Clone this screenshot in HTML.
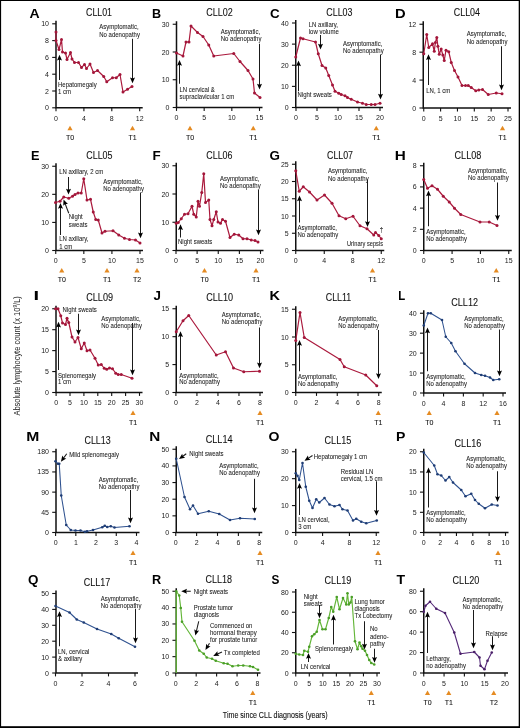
<!DOCTYPE html>
<html><head><meta charset="utf-8"><style>
html,body{margin:0;padding:0;background:#fff;width:520px;height:728px;overflow:hidden}
svg{display:block;font-family:"Liberation Sans", sans-serif;will-change:transform}
</style></head><body>
<svg width="520" height="728" viewBox="0 0 520 728">
<text transform="translate(29.45 18) scale(1.05 1)" font-size="13.4" font-weight="bold" fill="#000">A</text>
<text transform="translate(99 16.05) scale(1 1.1)" font-size="9.2" text-anchor="middle" fill="#111" stroke="#111" stroke-width="0.08" textLength="26" lengthAdjust="spacingAndGlyphs">CLL01</text>
<path d="M56 20.8V107.8H142.7" fill="none" stroke="#111" stroke-width="1.5"/>
<path d="M52.2 107.8H56" stroke="#111" stroke-width="1.1"/>
<text x="49" y="110.3" font-size="7" text-anchor="end" font-weight="normal" fill="#1a1a1a">0</text>
<path d="M52.2 91H56" stroke="#111" stroke-width="1.1"/>
<text x="49" y="93.5" font-size="7" text-anchor="end" font-weight="normal" fill="#1a1a1a">2</text>
<path d="M52.2 74.2H56" stroke="#111" stroke-width="1.1"/>
<text x="49" y="76.7" font-size="7" text-anchor="end" font-weight="normal" fill="#1a1a1a">4</text>
<path d="M52.2 57.4H56" stroke="#111" stroke-width="1.1"/>
<text x="49" y="59.9" font-size="7" text-anchor="end" font-weight="normal" fill="#1a1a1a">6</text>
<path d="M52.2 40.6H56" stroke="#111" stroke-width="1.1"/>
<text x="49" y="43.1" font-size="7" text-anchor="end" font-weight="normal" fill="#1a1a1a">8</text>
<path d="M52.2 23.8H56" stroke="#111" stroke-width="1.1"/>
<text x="49" y="26.3" font-size="7" text-anchor="end" font-weight="normal" fill="#1a1a1a">10</text>
<path d="M56 107.8V111.2" stroke="#111" stroke-width="1.1"/>
<text x="56" y="120.7" font-size="7" text-anchor="middle" font-weight="normal" fill="#1a1a1a">0</text>
<path d="M83.9 107.8V111.2" stroke="#111" stroke-width="1.1"/>
<text x="83.9" y="120.7" font-size="7" text-anchor="middle" font-weight="normal" fill="#1a1a1a">4</text>
<path d="M111.8 107.8V111.2" stroke="#111" stroke-width="1.1"/>
<text x="111.8" y="120.7" font-size="7" text-anchor="middle" font-weight="normal" fill="#1a1a1a">8</text>
<path d="M139.7 107.8V111.2" stroke="#111" stroke-width="1.1"/>
<text x="139.7" y="120.7" font-size="7" text-anchor="middle" font-weight="normal" fill="#1a1a1a">12</text>
<path d="M56 32 L56 40.5 L59 49.5 L61.5 39.5 L62.5 52 L65.5 53 L67 59.5 L70.5 52.5 L72 59 L74.5 62.5 L78.5 62.5 L81.5 67.5 L84.5 64.5 L86.5 68.5 L90 64 L93.5 72.5 L97.5 70.5 L103.75 76.5 L106.75 81.75 L112.5 77.75 L116.25 77.75 L120 74.5 L123 92 L127.5 89.25 L132 86.5" fill="none" stroke="#ab1a3d" stroke-width="1.2" stroke-linejoin="round"/>
<circle cx="56" cy="32" r="1.5" fill="#a3163a"/>
<circle cx="56" cy="40.5" r="1.5" fill="#a3163a"/>
<circle cx="59" cy="49.5" r="1.5" fill="#a3163a"/>
<circle cx="61.5" cy="39.5" r="1.5" fill="#a3163a"/>
<circle cx="62.5" cy="52" r="1.5" fill="#a3163a"/>
<circle cx="65.5" cy="53" r="1.5" fill="#a3163a"/>
<circle cx="67" cy="59.5" r="1.5" fill="#a3163a"/>
<circle cx="70.5" cy="52.5" r="1.5" fill="#a3163a"/>
<circle cx="72" cy="59" r="1.5" fill="#a3163a"/>
<circle cx="74.5" cy="62.5" r="1.5" fill="#a3163a"/>
<circle cx="78.5" cy="62.5" r="1.5" fill="#a3163a"/>
<circle cx="81.5" cy="67.5" r="1.5" fill="#a3163a"/>
<circle cx="84.5" cy="64.5" r="1.5" fill="#a3163a"/>
<circle cx="86.5" cy="68.5" r="1.5" fill="#a3163a"/>
<circle cx="90" cy="64" r="1.5" fill="#a3163a"/>
<circle cx="93.5" cy="72.5" r="1.5" fill="#a3163a"/>
<circle cx="97.5" cy="70.5" r="1.5" fill="#a3163a"/>
<circle cx="103.75" cy="76.5" r="1.5" fill="#a3163a"/>
<circle cx="106.75" cy="81.75" r="1.5" fill="#a3163a"/>
<circle cx="112.5" cy="77.75" r="1.5" fill="#a3163a"/>
<circle cx="116.25" cy="77.75" r="1.5" fill="#a3163a"/>
<circle cx="120" cy="74.5" r="1.5" fill="#a3163a"/>
<circle cx="123" cy="92" r="1.5" fill="#a3163a"/>
<circle cx="127.5" cy="89.25" r="1.5" fill="#a3163a"/>
<circle cx="132" cy="86.5" r="1.5" fill="#a3163a"/>
<path d="M59.5 80V58.18" stroke="#1a1a1a" stroke-width="1.05"/>
<path d="M59.5 54.7L57 60.5L59.5 59.46L62 60.5Z" fill="#000"/>
<path d="M132.5 38.75V79.82" stroke="#1a1a1a" stroke-width="1.05"/>
<path d="M132.5 83.3L130 77.5L132.5 78.54L135 77.5Z" fill="#000"/>
<text transform="translate(58 86.85) scale(1 1.08)" font-size="6" text-anchor="start" fill="#1a1a1a" stroke="#1a1a1a" stroke-width="0.06" textLength="38.69" lengthAdjust="spacingAndGlyphs">Hepatomegaly</text>
<text transform="translate(58 93.85) scale(1 1.08)" font-size="6" text-anchor="start" fill="#1a1a1a" stroke="#1a1a1a" stroke-width="0.06" textLength="13" lengthAdjust="spacingAndGlyphs">1 cm</text>
<text transform="translate(99.25 29.35) scale(1 1.08)" font-size="6" text-anchor="start" fill="#1a1a1a" stroke="#1a1a1a" stroke-width="0.06" textLength="39.34" lengthAdjust="spacingAndGlyphs">Asymptomatic,</text>
<text transform="translate(99.25 36.85) scale(1 1.08)" font-size="6" text-anchor="start" fill="#1a1a1a" stroke="#1a1a1a" stroke-width="0.06" textLength="40.7" lengthAdjust="spacingAndGlyphs">No adenopathy</text>
<path d="M67.4 130.2L70 125.8L72.6 130.2Z" fill="#e58b22"/>
<text x="70" y="139.7" font-size="7" text-anchor="middle" font-weight="normal" fill="#111" stroke="#111" stroke-width="0.08">T0</text>
<path d="M129.9 130.2L132.5 125.8L135.1 130.2Z" fill="#e58b22"/>
<text x="132.5" y="139.7" font-size="7" text-anchor="middle" font-weight="normal" fill="#111" stroke="#111" stroke-width="0.08">T1</text>
<text transform="translate(152.05 18) scale(0.94 1)" font-size="13.4" font-weight="bold" fill="#000">B</text>
<text transform="translate(219.5 16.05) scale(1 1.1)" font-size="9.2" text-anchor="middle" fill="#111" stroke="#111" stroke-width="0.08" textLength="26.5" lengthAdjust="spacingAndGlyphs">CLL02</text>
<path d="M176.5 21.25V107.5H262.5" fill="none" stroke="#111" stroke-width="1.5"/>
<path d="M172.7 107.5H176.5" stroke="#111" stroke-width="1.1"/>
<text x="169.5" y="110" font-size="7" text-anchor="end" font-weight="normal" fill="#1a1a1a">0</text>
<path d="M172.7 79.75H176.5" stroke="#111" stroke-width="1.1"/>
<text x="169.5" y="82.25" font-size="7" text-anchor="end" font-weight="normal" fill="#1a1a1a">10</text>
<path d="M172.7 52H176.5" stroke="#111" stroke-width="1.1"/>
<text x="169.5" y="54.5" font-size="7" text-anchor="end" font-weight="normal" fill="#1a1a1a">20</text>
<path d="M172.7 24.25H176.5" stroke="#111" stroke-width="1.1"/>
<text x="169.5" y="26.75" font-size="7" text-anchor="end" font-weight="normal" fill="#1a1a1a">30</text>
<path d="M176.5 107.5V110.9" stroke="#111" stroke-width="1.1"/>
<text x="176.5" y="120.4" font-size="7" text-anchor="middle" font-weight="normal" fill="#1a1a1a">0</text>
<path d="M204.17 107.5V110.9" stroke="#111" stroke-width="1.1"/>
<text x="204.17" y="120.4" font-size="7" text-anchor="middle" font-weight="normal" fill="#1a1a1a">5</text>
<path d="M231.83 107.5V110.9" stroke="#111" stroke-width="1.1"/>
<text x="231.83" y="120.4" font-size="7" text-anchor="middle" font-weight="normal" fill="#1a1a1a">10</text>
<path d="M259.5 107.5V110.9" stroke="#111" stroke-width="1.1"/>
<text x="259.5" y="120.4" font-size="7" text-anchor="middle" font-weight="normal" fill="#1a1a1a">15</text>
<path d="M176.5 53 L183 56 L186 42 L189 42 L191 26 L197.5 32.5 L203 36.5 L208.75 45 L213.75 56 L233.75 53.5 L240 61.5 L248 70.5 L253 79 L254.5 93 L260 97.5" fill="none" stroke="#ab1a3d" stroke-width="1.2" stroke-linejoin="round"/>
<circle cx="176.5" cy="53" r="1.5" fill="#a3163a"/>
<circle cx="183" cy="56" r="1.5" fill="#a3163a"/>
<circle cx="186" cy="42" r="1.5" fill="#a3163a"/>
<circle cx="189" cy="42" r="1.5" fill="#a3163a"/>
<circle cx="191" cy="26" r="1.5" fill="#a3163a"/>
<circle cx="197.5" cy="32.5" r="1.5" fill="#a3163a"/>
<circle cx="203" cy="36.5" r="1.5" fill="#a3163a"/>
<circle cx="208.75" cy="45" r="1.5" fill="#a3163a"/>
<circle cx="213.75" cy="56" r="1.5" fill="#a3163a"/>
<circle cx="233.75" cy="53.5" r="1.5" fill="#a3163a"/>
<circle cx="240" cy="61.5" r="1.5" fill="#a3163a"/>
<circle cx="248" cy="70.5" r="1.5" fill="#a3163a"/>
<circle cx="253" cy="79" r="1.5" fill="#a3163a"/>
<circle cx="254.5" cy="93" r="1.5" fill="#a3163a"/>
<circle cx="260" cy="97.5" r="1.5" fill="#a3163a"/>
<path d="M179.5 83.75V63.43" stroke="#1a1a1a" stroke-width="1.05"/>
<path d="M179.5 59.95L177 65.75L179.5 64.71L182 65.75Z" fill="#000"/>
<path d="M259.5 43.75V86.07" stroke="#1a1a1a" stroke-width="1.05"/>
<path d="M259.5 89.55L257 83.75L259.5 84.79L262 83.75Z" fill="#000"/>
<text transform="translate(179.5 91.85) scale(1 1.08)" font-size="6" text-anchor="start" fill="#1a1a1a" stroke="#1a1a1a" stroke-width="0.06" textLength="35.34" lengthAdjust="spacingAndGlyphs">LN cervical &amp;</text>
<text transform="translate(179.5 98.6) scale(1 1.08)" font-size="6" text-anchor="start" fill="#1a1a1a" stroke="#1a1a1a" stroke-width="0.06" textLength="54.69" lengthAdjust="spacingAndGlyphs">supraclavicular 1 cm</text>
<text transform="translate(220.75 34.35) scale(1 1.08)" font-size="6" text-anchor="start" fill="#1a1a1a" stroke="#1a1a1a" stroke-width="0.06" textLength="39.34" lengthAdjust="spacingAndGlyphs">Asymptomatic,</text>
<text transform="translate(220.75 41.1) scale(1 1.08)" font-size="6" text-anchor="start" fill="#1a1a1a" stroke="#1a1a1a" stroke-width="0.06" textLength="40.7" lengthAdjust="spacingAndGlyphs">No adenopathy</text>
<path d="M187.4 130.2L190 125.8L192.6 130.2Z" fill="#e58b22"/>
<text x="190" y="139.7" font-size="7" text-anchor="middle" font-weight="normal" fill="#111" stroke="#111" stroke-width="0.08">T0</text>
<path d="M250.65 130.2L253.25 125.8L255.85 130.2Z" fill="#e58b22"/>
<text x="253.25" y="139.7" font-size="7" text-anchor="middle" font-weight="normal" fill="#111" stroke="#111" stroke-width="0.08">T1</text>
<text transform="translate(270 18) scale(1 1)" font-size="13.4" font-weight="bold" fill="#000">C</text>
<text transform="translate(339.4 16.05) scale(1 1.1)" font-size="9.2" text-anchor="middle" fill="#111" stroke="#111" stroke-width="0.08" textLength="26.25" lengthAdjust="spacingAndGlyphs">CLL03</text>
<path d="M295.75 20V107.5H383" fill="none" stroke="#111" stroke-width="1.5"/>
<path d="M291.95 107.5H295.75" stroke="#111" stroke-width="1.1"/>
<text x="288.75" y="110" font-size="7" text-anchor="end" font-weight="normal" fill="#1a1a1a">0</text>
<path d="M291.95 86.38H295.75" stroke="#111" stroke-width="1.1"/>
<text x="288.75" y="88.88" font-size="7" text-anchor="end" font-weight="normal" fill="#1a1a1a">10</text>
<path d="M291.95 65.25H295.75" stroke="#111" stroke-width="1.1"/>
<text x="288.75" y="67.75" font-size="7" text-anchor="end" font-weight="normal" fill="#1a1a1a">20</text>
<path d="M291.95 44.12H295.75" stroke="#111" stroke-width="1.1"/>
<text x="288.75" y="46.62" font-size="7" text-anchor="end" font-weight="normal" fill="#1a1a1a">30</text>
<path d="M291.95 23H295.75" stroke="#111" stroke-width="1.1"/>
<text x="288.75" y="25.5" font-size="7" text-anchor="end" font-weight="normal" fill="#1a1a1a">40</text>
<path d="M296 107.5V110.9" stroke="#111" stroke-width="1.1"/>
<text x="296" y="120.4" font-size="7" text-anchor="middle" font-weight="normal" fill="#1a1a1a">0</text>
<path d="M317 107.5V110.9" stroke="#111" stroke-width="1.1"/>
<text x="317" y="120.4" font-size="7" text-anchor="middle" font-weight="normal" fill="#1a1a1a">5</text>
<path d="M338 107.5V110.9" stroke="#111" stroke-width="1.1"/>
<text x="338" y="120.4" font-size="7" text-anchor="middle" font-weight="normal" fill="#1a1a1a">10</text>
<path d="M359 107.5V110.9" stroke="#111" stroke-width="1.1"/>
<text x="359" y="120.4" font-size="7" text-anchor="middle" font-weight="normal" fill="#1a1a1a">15</text>
<path d="M380 107.5V110.9" stroke="#111" stroke-width="1.1"/>
<text x="380" y="120.4" font-size="7" text-anchor="middle" font-weight="normal" fill="#1a1a1a">20</text>
<path d="M295.75 57 L300.5 38 L303 38.75 L315.5 42 L318.25 53.75 L322 65.5 L325.75 68 L328.75 75.5 L332.5 85 L335 91.25 L338.75 93.25 L341.25 94.5 L345 95.75 L347.5 97.5 L351.25 99.25 L357.5 102 L362.5 103.25 L366.25 104.5 L371.25 104.5 L375 104.5 L380 103.25" fill="none" stroke="#ab1a3d" stroke-width="1.2" stroke-linejoin="round"/>
<circle cx="295.75" cy="57" r="1.5" fill="#a3163a"/>
<circle cx="300.5" cy="38" r="1.5" fill="#a3163a"/>
<circle cx="303" cy="38.75" r="1.5" fill="#a3163a"/>
<circle cx="315.5" cy="42" r="1.5" fill="#a3163a"/>
<circle cx="318.25" cy="53.75" r="1.5" fill="#a3163a"/>
<circle cx="322" cy="65.5" r="1.5" fill="#a3163a"/>
<circle cx="325.75" cy="68" r="1.5" fill="#a3163a"/>
<circle cx="328.75" cy="75.5" r="1.5" fill="#a3163a"/>
<circle cx="332.5" cy="85" r="1.5" fill="#a3163a"/>
<circle cx="335" cy="91.25" r="1.5" fill="#a3163a"/>
<circle cx="338.75" cy="93.25" r="1.5" fill="#a3163a"/>
<circle cx="341.25" cy="94.5" r="1.5" fill="#a3163a"/>
<circle cx="345" cy="95.75" r="1.5" fill="#a3163a"/>
<circle cx="347.5" cy="97.5" r="1.5" fill="#a3163a"/>
<circle cx="351.25" cy="99.25" r="1.5" fill="#a3163a"/>
<circle cx="357.5" cy="102" r="1.5" fill="#a3163a"/>
<circle cx="362.5" cy="103.25" r="1.5" fill="#a3163a"/>
<circle cx="366.25" cy="104.5" r="1.5" fill="#a3163a"/>
<circle cx="371.25" cy="104.5" r="1.5" fill="#a3163a"/>
<circle cx="375" cy="104.5" r="1.5" fill="#a3163a"/>
<circle cx="380" cy="103.25" r="1.5" fill="#a3163a"/>
<path d="M298.5 91.25V63.93" stroke="#1a1a1a" stroke-width="1.05"/>
<path d="M298.5 60.45L296 66.25L298.5 65.21L301 66.25Z" fill="#000"/>
<path d="M320.5 35V46.07" stroke="#1a1a1a" stroke-width="1.05"/>
<path d="M320.5 49.55L318 43.75L320.5 44.79L323 43.75Z" fill="#000"/>
<path d="M380.5 54.5V96.07" stroke="#1a1a1a" stroke-width="1.05"/>
<path d="M380.5 99.55L378 93.75L380.5 94.79L383 93.75Z" fill="#000"/>
<text transform="translate(308.75 26.85) scale(1 1.08)" font-size="6" text-anchor="start" fill="#1a1a1a" stroke="#1a1a1a" stroke-width="0.06" textLength="29.23" lengthAdjust="spacingAndGlyphs">LN axillary,</text>
<text transform="translate(308.75 33.85) scale(1 1.08)" font-size="6" text-anchor="start" fill="#1a1a1a" stroke="#1a1a1a" stroke-width="0.06" textLength="30.01" lengthAdjust="spacingAndGlyphs">low volume</text>
<text transform="translate(343 46.1) scale(1 1.08)" font-size="6" text-anchor="start" fill="#1a1a1a" stroke="#1a1a1a" stroke-width="0.06" textLength="39.34" lengthAdjust="spacingAndGlyphs">Asymptomatic,</text>
<text transform="translate(343 53.1) scale(1 1.08)" font-size="6" text-anchor="start" fill="#1a1a1a" stroke="#1a1a1a" stroke-width="0.06" textLength="40.7" lengthAdjust="spacingAndGlyphs">No adenopathy</text>
<text transform="translate(297.5 97.35) scale(1 1.08)" font-size="6" text-anchor="start" fill="#1a1a1a" stroke="#1a1a1a" stroke-width="0.06" textLength="34.35" lengthAdjust="spacingAndGlyphs">Night sweats</text>
<path d="M373.65 130.2L376.25 125.8L378.85 130.2Z" fill="#e58b22"/>
<text x="376.25" y="139.7" font-size="7" text-anchor="middle" font-weight="normal" fill="#111" stroke="#111" stroke-width="0.08">T1</text>
<text transform="translate(394.91 18) scale(1.1 1)" font-size="13.4" font-weight="bold" fill="#000">D</text>
<text transform="translate(466.9 16.05) scale(1 1.1)" font-size="9.2" text-anchor="middle" fill="#111" stroke="#111" stroke-width="0.08" textLength="26.25" lengthAdjust="spacingAndGlyphs">CLL04</text>
<path d="M423.25 21.25V108H511" fill="none" stroke="#111" stroke-width="1.5"/>
<path d="M419.45 108H423.25" stroke="#111" stroke-width="1.1"/>
<text x="416.25" y="110.5" font-size="7" text-anchor="end" font-weight="normal" fill="#1a1a1a">0</text>
<path d="M419.45 80.08H423.25" stroke="#111" stroke-width="1.1"/>
<text x="416.25" y="82.58" font-size="7" text-anchor="end" font-weight="normal" fill="#1a1a1a">4</text>
<path d="M419.45 52.17H423.25" stroke="#111" stroke-width="1.1"/>
<text x="416.25" y="54.67" font-size="7" text-anchor="end" font-weight="normal" fill="#1a1a1a">8</text>
<path d="M419.45 24.25H423.25" stroke="#111" stroke-width="1.1"/>
<text x="416.25" y="26.75" font-size="7" text-anchor="end" font-weight="normal" fill="#1a1a1a">12</text>
<path d="M423.75 108V111.4" stroke="#111" stroke-width="1.1"/>
<text x="423.75" y="120.9" font-size="7" text-anchor="middle" font-weight="normal" fill="#1a1a1a">0</text>
<path d="M440.6 108V111.4" stroke="#111" stroke-width="1.1"/>
<text x="440.6" y="120.9" font-size="7" text-anchor="middle" font-weight="normal" fill="#1a1a1a">5</text>
<path d="M457.45 108V111.4" stroke="#111" stroke-width="1.1"/>
<text x="457.45" y="120.9" font-size="7" text-anchor="middle" font-weight="normal" fill="#1a1a1a">10</text>
<path d="M474.3 108V111.4" stroke="#111" stroke-width="1.1"/>
<text x="474.3" y="120.9" font-size="7" text-anchor="middle" font-weight="normal" fill="#1a1a1a">15</text>
<path d="M491.15 108V111.4" stroke="#111" stroke-width="1.1"/>
<text x="491.15" y="120.9" font-size="7" text-anchor="middle" font-weight="normal" fill="#1a1a1a">20</text>
<path d="M508 108V111.4" stroke="#111" stroke-width="1.1"/>
<text x="508" y="120.9" font-size="7" text-anchor="middle" font-weight="normal" fill="#1a1a1a">25</text>
<path d="M423.75 53.75 L426.75 34.5 L428.75 47.5 L432.5 43.75 L434.25 51.25 L435.4 42.4 L436.8 37.4 L437.9 46.3 L439.25 54.2 L441.2 49 L442.8 55 L444.25 60.5 L446 50.2 L448.75 51.75 L451.25 62.5 L454.5 70.5 L458 77 L462 85.5 L465.5 85.5 L468.25 85.5 L471.25 87.5 L475.75 90.75 L478.75 90 L482.5 89.5 L488.25 94.5 L496.25 93 L502 93.75" fill="none" stroke="#ab1a3d" stroke-width="1.2" stroke-linejoin="round"/>
<circle cx="423.75" cy="53.75" r="1.5" fill="#a3163a"/>
<circle cx="426.75" cy="34.5" r="1.5" fill="#a3163a"/>
<circle cx="428.75" cy="47.5" r="1.5" fill="#a3163a"/>
<circle cx="432.5" cy="43.75" r="1.5" fill="#a3163a"/>
<circle cx="434.25" cy="51.25" r="1.5" fill="#a3163a"/>
<circle cx="435.4" cy="42.4" r="1.5" fill="#a3163a"/>
<circle cx="436.8" cy="37.4" r="1.5" fill="#a3163a"/>
<circle cx="437.9" cy="46.3" r="1.5" fill="#a3163a"/>
<circle cx="439.25" cy="54.2" r="1.5" fill="#a3163a"/>
<circle cx="441.2" cy="49" r="1.5" fill="#a3163a"/>
<circle cx="442.8" cy="55" r="1.5" fill="#a3163a"/>
<circle cx="444.25" cy="60.5" r="1.5" fill="#a3163a"/>
<circle cx="446" cy="50.2" r="1.5" fill="#a3163a"/>
<circle cx="448.75" cy="51.75" r="1.5" fill="#a3163a"/>
<circle cx="451.25" cy="62.5" r="1.5" fill="#a3163a"/>
<circle cx="454.5" cy="70.5" r="1.5" fill="#a3163a"/>
<circle cx="458" cy="77" r="1.5" fill="#a3163a"/>
<circle cx="462" cy="85.5" r="1.5" fill="#a3163a"/>
<circle cx="465.5" cy="85.5" r="1.5" fill="#a3163a"/>
<circle cx="468.25" cy="85.5" r="1.5" fill="#a3163a"/>
<circle cx="471.25" cy="87.5" r="1.5" fill="#a3163a"/>
<circle cx="475.75" cy="90.75" r="1.5" fill="#a3163a"/>
<circle cx="478.75" cy="90" r="1.5" fill="#a3163a"/>
<circle cx="482.5" cy="89.5" r="1.5" fill="#a3163a"/>
<circle cx="488.25" cy="94.5" r="1.5" fill="#a3163a"/>
<circle cx="496.25" cy="93" r="1.5" fill="#a3163a"/>
<circle cx="502" cy="93.75" r="1.5" fill="#a3163a"/>
<path d="M428.5 85V57.68" stroke="#1a1a1a" stroke-width="1.05"/>
<path d="M428.5 54.2L426 60L428.5 58.96L431 60Z" fill="#000"/>
<path d="M501.5 46.25V86.82" stroke="#1a1a1a" stroke-width="1.05"/>
<path d="M501.5 90.3L499 84.5L501.5 85.54L504 84.5Z" fill="#000"/>
<text transform="translate(426.25 92.85) scale(1 1.08)" font-size="6" text-anchor="start" fill="#1a1a1a" stroke="#1a1a1a" stroke-width="0.06" textLength="24.01" lengthAdjust="spacingAndGlyphs">LN, 1 cm</text>
<text transform="translate(466.75 36.1) scale(1 1.08)" font-size="6" text-anchor="start" fill="#1a1a1a" stroke="#1a1a1a" stroke-width="0.06" textLength="39.34" lengthAdjust="spacingAndGlyphs">Asymptomatic,</text>
<text transform="translate(466.75 43.6) scale(1 1.08)" font-size="6" text-anchor="start" fill="#1a1a1a" stroke="#1a1a1a" stroke-width="0.06" textLength="40.7" lengthAdjust="spacingAndGlyphs">No adenopathy</text>
<path d="M499.9 130.2L502.5 125.8L505.1 130.2Z" fill="#e58b22"/>
<text x="502.5" y="139.7" font-size="7" text-anchor="middle" font-weight="normal" fill="#111" stroke="#111" stroke-width="0.08">T1</text>
<text transform="translate(31.05 159.5) scale(0.95 1)" font-size="13.4" font-weight="bold" fill="#000">E</text>
<text transform="translate(99.4 158.8) scale(1 1.1)" font-size="9.2" text-anchor="middle" fill="#111" stroke="#111" stroke-width="0.08" textLength="26.25" lengthAdjust="spacingAndGlyphs">CLL05</text>
<path d="M56 163.25V250.5H143" fill="none" stroke="#111" stroke-width="1.5"/>
<path d="M52.2 250.5H56" stroke="#111" stroke-width="1.1"/>
<text x="49" y="253" font-size="7" text-anchor="end" font-weight="normal" fill="#1a1a1a">0</text>
<path d="M52.2 222.42H56" stroke="#111" stroke-width="1.1"/>
<text x="49" y="224.92" font-size="7" text-anchor="end" font-weight="normal" fill="#1a1a1a">10</text>
<path d="M52.2 194.33H56" stroke="#111" stroke-width="1.1"/>
<text x="49" y="196.83" font-size="7" text-anchor="end" font-weight="normal" fill="#1a1a1a">20</text>
<path d="M52.2 166.25H56" stroke="#111" stroke-width="1.1"/>
<text x="49" y="168.75" font-size="7" text-anchor="end" font-weight="normal" fill="#1a1a1a">30</text>
<path d="M55.75 250.5V253.9" stroke="#111" stroke-width="1.1"/>
<text x="55.75" y="263.4" font-size="7" text-anchor="middle" font-weight="normal" fill="#1a1a1a">0</text>
<path d="M83.83 250.5V253.9" stroke="#111" stroke-width="1.1"/>
<text x="83.83" y="263.4" font-size="7" text-anchor="middle" font-weight="normal" fill="#1a1a1a">5</text>
<path d="M111.92 250.5V253.9" stroke="#111" stroke-width="1.1"/>
<text x="111.92" y="263.4" font-size="7" text-anchor="middle" font-weight="normal" fill="#1a1a1a">10</text>
<path d="M140 250.5V253.9" stroke="#111" stroke-width="1.1"/>
<text x="140" y="263.4" font-size="7" text-anchor="middle" font-weight="normal" fill="#1a1a1a">15</text>
<path d="M55.5 202.5 L60 201.25 L63.75 197 L68.75 198.25 L72.5 196.25 L75 194.5 L78 193 L81.25 193 L83.75 178.75 L87 200 L90.5 199.25 L93.25 212 L95.75 219.5 L98.25 220 L102 233 L105 231.25 L113 230.75 L118.75 235 L124.5 238.25 L129.5 239.5 L135.5 240 L140 243" fill="none" stroke="#ab1a3d" stroke-width="1.2" stroke-linejoin="round"/>
<circle cx="55.5" cy="202.5" r="1.5" fill="#a3163a"/>
<circle cx="60" cy="201.25" r="1.5" fill="#a3163a"/>
<circle cx="63.75" cy="197" r="1.5" fill="#a3163a"/>
<circle cx="68.75" cy="198.25" r="1.5" fill="#a3163a"/>
<circle cx="72.5" cy="196.25" r="1.5" fill="#a3163a"/>
<circle cx="75" cy="194.5" r="1.5" fill="#a3163a"/>
<circle cx="78" cy="193" r="1.5" fill="#a3163a"/>
<circle cx="81.25" cy="193" r="1.5" fill="#a3163a"/>
<circle cx="83.75" cy="178.75" r="1.5" fill="#a3163a"/>
<circle cx="87" cy="200" r="1.5" fill="#a3163a"/>
<circle cx="90.5" cy="199.25" r="1.5" fill="#a3163a"/>
<circle cx="93.25" cy="212" r="1.5" fill="#a3163a"/>
<circle cx="95.75" cy="219.5" r="1.5" fill="#a3163a"/>
<circle cx="98.25" cy="220" r="1.5" fill="#a3163a"/>
<circle cx="102" cy="233" r="1.5" fill="#a3163a"/>
<circle cx="105" cy="231.25" r="1.5" fill="#a3163a"/>
<circle cx="113" cy="230.75" r="1.5" fill="#a3163a"/>
<circle cx="118.75" cy="235" r="1.5" fill="#a3163a"/>
<circle cx="124.5" cy="238.25" r="1.5" fill="#a3163a"/>
<circle cx="129.5" cy="239.5" r="1.5" fill="#a3163a"/>
<circle cx="135.5" cy="240" r="1.5" fill="#a3163a"/>
<circle cx="140" cy="243" r="1.5" fill="#a3163a"/>
<path d="M68.5 177V191.07" stroke="#1a1a1a" stroke-width="1.05"/>
<path d="M68.5 194.55L66 188.75L68.5 189.79L71 188.75Z" fill="#000"/>
<path d="M60.5 235V206.43" stroke="#1a1a1a" stroke-width="1.05"/>
<path d="M60.5 202.95L58 208.75L60.5 207.71L63 208.75Z" fill="#000"/>
<path d="M140.5 192.5V234.82" stroke="#1a1a1a" stroke-width="1.05"/>
<path d="M140.5 238.3L138 232.5L140.5 233.54L143 232.5Z" fill="#000"/>
<path d="M68.75 213.25L64.77 202.69" stroke="#1a1a1a" stroke-width="1.05"/>
<path d="M63.54 199.44L67.92 203.98L65.22 203.89L63.25 205.75Z" fill="#000"/>
<text transform="translate(59.25 174.1) scale(1 1.08)" font-size="6" text-anchor="start" fill="#1a1a1a" stroke="#1a1a1a" stroke-width="0.06" textLength="43.9" lengthAdjust="spacingAndGlyphs">LN axillary, 2 cm</text>
<text transform="translate(68.75 219.35) scale(1 1.08)" font-size="6" text-anchor="start" fill="#1a1a1a" stroke="#1a1a1a" stroke-width="0.06" textLength="14.01" lengthAdjust="spacingAndGlyphs">Night</text>
<text transform="translate(68.75 226.85) scale(1 1.08)" font-size="6" text-anchor="start" fill="#1a1a1a" stroke="#1a1a1a" stroke-width="0.06" textLength="18.67" lengthAdjust="spacingAndGlyphs">sweats</text>
<text transform="translate(59.25 241.35) scale(1 1.08)" font-size="6" text-anchor="start" fill="#1a1a1a" stroke="#1a1a1a" stroke-width="0.06" textLength="29.23" lengthAdjust="spacingAndGlyphs">LN axillary,</text>
<text transform="translate(59.25 248.85) scale(1 1.08)" font-size="6" text-anchor="start" fill="#1a1a1a" stroke="#1a1a1a" stroke-width="0.06" textLength="13" lengthAdjust="spacingAndGlyphs">1 cm</text>
<text transform="translate(103.25 184.35) scale(1 1.08)" font-size="6" text-anchor="start" fill="#1a1a1a" stroke="#1a1a1a" stroke-width="0.06" textLength="39.34" lengthAdjust="spacingAndGlyphs">Asymptomatic,</text>
<text transform="translate(103.25 191.35) scale(1 1.08)" font-size="6" text-anchor="start" fill="#1a1a1a" stroke="#1a1a1a" stroke-width="0.06" textLength="40.7" lengthAdjust="spacingAndGlyphs">No adenopathy</text>
<path d="M59.15 272.5L61.75 268.1L64.35 272.5Z" fill="#e58b22"/>
<text x="61.75" y="282" font-size="7" text-anchor="middle" font-weight="normal" fill="#111" stroke="#111" stroke-width="0.08">T0</text>
<path d="M104.4 272.5L107 268.1L109.6 272.5Z" fill="#e58b22"/>
<text x="107" y="282" font-size="7" text-anchor="middle" font-weight="normal" fill="#111" stroke="#111" stroke-width="0.08">T1</text>
<path d="M134.4 272.5L137 268.1L139.6 272.5Z" fill="#e58b22"/>
<text x="137" y="282" font-size="7" text-anchor="middle" font-weight="normal" fill="#111" stroke="#111" stroke-width="0.08">T2</text>
<text transform="translate(152.5 159.5) scale(1 1)" font-size="13.4" font-weight="bold" fill="#000">F</text>
<text transform="translate(219.4 158.8) scale(1 1.1)" font-size="9.2" text-anchor="middle" fill="#111" stroke="#111" stroke-width="0.08" textLength="26.25" lengthAdjust="spacingAndGlyphs">CLL06</text>
<path d="M176.25 162.75V250.5H263.5" fill="none" stroke="#111" stroke-width="1.5"/>
<path d="M172.45 250.5H176.25" stroke="#111" stroke-width="1.1"/>
<text x="169.25" y="253" font-size="7" text-anchor="end" font-weight="normal" fill="#1a1a1a">0</text>
<path d="M172.45 222.25H176.25" stroke="#111" stroke-width="1.1"/>
<text x="169.25" y="224.75" font-size="7" text-anchor="end" font-weight="normal" fill="#1a1a1a">10</text>
<path d="M172.45 194H176.25" stroke="#111" stroke-width="1.1"/>
<text x="169.25" y="196.5" font-size="7" text-anchor="end" font-weight="normal" fill="#1a1a1a">20</text>
<path d="M172.45 165.75H176.25" stroke="#111" stroke-width="1.1"/>
<text x="169.25" y="168.25" font-size="7" text-anchor="end" font-weight="normal" fill="#1a1a1a">30</text>
<path d="M176 250.5V253.9" stroke="#111" stroke-width="1.1"/>
<text x="176" y="263.4" font-size="7" text-anchor="middle" font-weight="normal" fill="#1a1a1a">0</text>
<path d="M197.12 250.5V253.9" stroke="#111" stroke-width="1.1"/>
<text x="197.12" y="263.4" font-size="7" text-anchor="middle" font-weight="normal" fill="#1a1a1a">5</text>
<path d="M218.25 250.5V253.9" stroke="#111" stroke-width="1.1"/>
<text x="218.25" y="263.4" font-size="7" text-anchor="middle" font-weight="normal" fill="#1a1a1a">10</text>
<path d="M239.38 250.5V253.9" stroke="#111" stroke-width="1.1"/>
<text x="239.38" y="263.4" font-size="7" text-anchor="middle" font-weight="normal" fill="#1a1a1a">15</text>
<path d="M260.5 250.5V253.9" stroke="#111" stroke-width="1.1"/>
<text x="260.5" y="263.4" font-size="7" text-anchor="middle" font-weight="normal" fill="#1a1a1a">20</text>
<path d="M176.25 223.25 L178.25 222.5 L181.25 218.75 L184.5 214.25 L188 213.75 L192 206.25 L193.75 214.25 L196.25 217 L198 201.25 L199.5 206.25 L201.75 192.5 L203.75 173.75 L205.5 202.5 L208.75 200 L210 219.5 L212 225.75 L213.75 219.5 L216.25 211.75 L218 222 L220.5 223.25 L222.5 219.5 L225.5 221.25 L230 237.5 L234.25 234.25 L238.75 235 L243 238.75 L247 238.75 L251.25 240 L255 240.5 L258 242" fill="none" stroke="#ab1a3d" stroke-width="1.2" stroke-linejoin="round"/>
<circle cx="176.25" cy="223.25" r="1.5" fill="#a3163a"/>
<circle cx="178.25" cy="222.5" r="1.5" fill="#a3163a"/>
<circle cx="181.25" cy="218.75" r="1.5" fill="#a3163a"/>
<circle cx="184.5" cy="214.25" r="1.5" fill="#a3163a"/>
<circle cx="188" cy="213.75" r="1.5" fill="#a3163a"/>
<circle cx="192" cy="206.25" r="1.5" fill="#a3163a"/>
<circle cx="193.75" cy="214.25" r="1.5" fill="#a3163a"/>
<circle cx="196.25" cy="217" r="1.5" fill="#a3163a"/>
<circle cx="198" cy="201.25" r="1.5" fill="#a3163a"/>
<circle cx="199.5" cy="206.25" r="1.5" fill="#a3163a"/>
<circle cx="201.75" cy="192.5" r="1.5" fill="#a3163a"/>
<circle cx="203.75" cy="173.75" r="1.5" fill="#a3163a"/>
<circle cx="205.5" cy="202.5" r="1.5" fill="#a3163a"/>
<circle cx="208.75" cy="200" r="1.5" fill="#a3163a"/>
<circle cx="210" cy="219.5" r="1.5" fill="#a3163a"/>
<circle cx="212" cy="225.75" r="1.5" fill="#a3163a"/>
<circle cx="213.75" cy="219.5" r="1.5" fill="#a3163a"/>
<circle cx="216.25" cy="211.75" r="1.5" fill="#a3163a"/>
<circle cx="218" cy="222" r="1.5" fill="#a3163a"/>
<circle cx="220.5" cy="223.25" r="1.5" fill="#a3163a"/>
<circle cx="222.5" cy="219.5" r="1.5" fill="#a3163a"/>
<circle cx="225.5" cy="221.25" r="1.5" fill="#a3163a"/>
<circle cx="230" cy="237.5" r="1.5" fill="#a3163a"/>
<circle cx="234.25" cy="234.25" r="1.5" fill="#a3163a"/>
<circle cx="238.75" cy="235" r="1.5" fill="#a3163a"/>
<circle cx="243" cy="238.75" r="1.5" fill="#a3163a"/>
<circle cx="247" cy="238.75" r="1.5" fill="#a3163a"/>
<circle cx="251.25" cy="240" r="1.5" fill="#a3163a"/>
<circle cx="255" cy="240.5" r="1.5" fill="#a3163a"/>
<circle cx="258" cy="242" r="1.5" fill="#a3163a"/>
<path d="M180.5 237.5V227.68" stroke="#1a1a1a" stroke-width="1.05"/>
<path d="M180.5 224.2L178 230L180.5 228.96L183 230Z" fill="#000"/>
<path d="M258.5 190V231.82" stroke="#1a1a1a" stroke-width="1.05"/>
<path d="M258.5 235.3L256 229.5L258.5 230.54L261 229.5Z" fill="#000"/>
<text transform="translate(178 244.35) scale(1 1.08)" font-size="6" text-anchor="start" fill="#1a1a1a" stroke="#1a1a1a" stroke-width="0.06" textLength="34.35" lengthAdjust="spacingAndGlyphs">Night sweats</text>
<text transform="translate(220 181.35) scale(1 1.08)" font-size="6" text-anchor="start" fill="#1a1a1a" stroke="#1a1a1a" stroke-width="0.06" textLength="39.34" lengthAdjust="spacingAndGlyphs">Asymptomatic,</text>
<text transform="translate(220 188.1) scale(1 1.08)" font-size="6" text-anchor="start" fill="#1a1a1a" stroke="#1a1a1a" stroke-width="0.06" textLength="40.7" lengthAdjust="spacingAndGlyphs">No adenopathy</text>
<path d="M201.9 272.5L204.5 268.1L207.1 272.5Z" fill="#e58b22"/>
<text x="204.5" y="282" font-size="7" text-anchor="middle" font-weight="normal" fill="#111" stroke="#111" stroke-width="0.08">T0</text>
<path d="M253.4 272.5L256 268.1L258.6 272.5Z" fill="#e58b22"/>
<text x="256" y="282" font-size="7" text-anchor="middle" font-weight="normal" fill="#111" stroke="#111" stroke-width="0.08">T1</text>
<text transform="translate(269.5 159.5) scale(1 1)" font-size="13.4" font-weight="bold" fill="#000">G</text>
<text transform="translate(340 158.8) scale(1 1.1)" font-size="9.2" text-anchor="middle" fill="#111" stroke="#111" stroke-width="0.08" textLength="26" lengthAdjust="spacingAndGlyphs">CLL07</text>
<path d="M295.75 161.25V250.5H384.25" fill="none" stroke="#111" stroke-width="1.5"/>
<path d="M291.95 250.5H295.75" stroke="#111" stroke-width="1.1"/>
<text x="288.75" y="253" font-size="7" text-anchor="end" font-weight="normal" fill="#1a1a1a">0</text>
<path d="M291.95 233.25H295.75" stroke="#111" stroke-width="1.1"/>
<text x="288.75" y="235.75" font-size="7" text-anchor="end" font-weight="normal" fill="#1a1a1a">5</text>
<path d="M291.95 216H295.75" stroke="#111" stroke-width="1.1"/>
<text x="288.75" y="218.5" font-size="7" text-anchor="end" font-weight="normal" fill="#1a1a1a">10</text>
<path d="M291.95 198.75H295.75" stroke="#111" stroke-width="1.1"/>
<text x="288.75" y="201.25" font-size="7" text-anchor="end" font-weight="normal" fill="#1a1a1a">15</text>
<path d="M291.95 181.5H295.75" stroke="#111" stroke-width="1.1"/>
<text x="288.75" y="184" font-size="7" text-anchor="end" font-weight="normal" fill="#1a1a1a">20</text>
<path d="M291.95 164.25H295.75" stroke="#111" stroke-width="1.1"/>
<text x="288.75" y="166.75" font-size="7" text-anchor="end" font-weight="normal" fill="#1a1a1a">25</text>
<path d="M295.75 250.5V253.9" stroke="#111" stroke-width="1.1"/>
<text x="295.75" y="263.4" font-size="7" text-anchor="middle" font-weight="normal" fill="#1a1a1a">0</text>
<path d="M324.25 250.5V253.9" stroke="#111" stroke-width="1.1"/>
<text x="324.25" y="263.4" font-size="7" text-anchor="middle" font-weight="normal" fill="#1a1a1a">4</text>
<path d="M352.75 250.5V253.9" stroke="#111" stroke-width="1.1"/>
<text x="352.75" y="263.4" font-size="7" text-anchor="middle" font-weight="normal" fill="#1a1a1a">8</text>
<path d="M381.25 250.5V253.9" stroke="#111" stroke-width="1.1"/>
<text x="381.25" y="263.4" font-size="7" text-anchor="middle" font-weight="normal" fill="#1a1a1a">12</text>
<path d="M295.75 170.75 L299.25 191.25 L303.25 186.75 L309.5 192 L317 200 L324.5 195 L332 203.25 L339 215.75 L345.75 218.75 L353 216.25 L360 225.75 L367 228.75 L373.75 235 L375.5 232.5 L378.75 235.5 L381.25 238.75" fill="none" stroke="#ab1a3d" stroke-width="1.2" stroke-linejoin="round"/>
<circle cx="295.75" cy="170.75" r="1.5" fill="#a3163a"/>
<circle cx="299.25" cy="191.25" r="1.5" fill="#a3163a"/>
<circle cx="303.25" cy="186.75" r="1.5" fill="#a3163a"/>
<circle cx="309.5" cy="192" r="1.5" fill="#a3163a"/>
<circle cx="317" cy="200" r="1.5" fill="#a3163a"/>
<circle cx="324.5" cy="195" r="1.5" fill="#a3163a"/>
<circle cx="332" cy="203.25" r="1.5" fill="#a3163a"/>
<circle cx="339" cy="215.75" r="1.5" fill="#a3163a"/>
<circle cx="345.75" cy="218.75" r="1.5" fill="#a3163a"/>
<circle cx="353" cy="216.25" r="1.5" fill="#a3163a"/>
<circle cx="360" cy="225.75" r="1.5" fill="#a3163a"/>
<circle cx="367" cy="228.75" r="1.5" fill="#a3163a"/>
<circle cx="373.75" cy="235" r="1.5" fill="#a3163a"/>
<circle cx="375.5" cy="232.5" r="1.5" fill="#a3163a"/>
<circle cx="378.75" cy="235.5" r="1.5" fill="#a3163a"/>
<circle cx="381.25" cy="238.75" r="1.5" fill="#a3163a"/>
<path d="M299.5 222.5V198.93" stroke="#1a1a1a" stroke-width="1.05"/>
<path d="M299.5 195.45L297 201.25L299.5 200.21L302 201.25Z" fill="#000"/>
<path d="M367.5 179.5V223.57" stroke="#1a1a1a" stroke-width="1.05"/>
<path d="M367.5 227.05L365 221.25L367.5 222.29L370 221.25Z" fill="#000"/>
<text transform="translate(328 173.1) scale(1 1.08)" font-size="6" text-anchor="start" fill="#1a1a1a" stroke="#1a1a1a" stroke-width="0.06" textLength="39.34" lengthAdjust="spacingAndGlyphs">Asymptomatic,</text>
<text transform="translate(328 180.6) scale(1 1.08)" font-size="6" text-anchor="start" fill="#1a1a1a" stroke="#1a1a1a" stroke-width="0.06" textLength="40.7" lengthAdjust="spacingAndGlyphs">No adenopathy</text>
<text transform="translate(297.5 230.1) scale(1 1.08)" font-size="6" text-anchor="start" fill="#1a1a1a" stroke="#1a1a1a" stroke-width="0.06" textLength="39.34" lengthAdjust="spacingAndGlyphs">Asymptomatic,</text>
<text transform="translate(297.5 236.85) scale(1 1.08)" font-size="6" text-anchor="start" fill="#1a1a1a" stroke="#1a1a1a" stroke-width="0.06" textLength="40.7" lengthAdjust="spacingAndGlyphs">No adenopathy</text>
<text transform="translate(379.8 231.85) scale(1 1.08)" font-size="6" text-anchor="start" fill="#1a1a1a" stroke="#1a1a1a" stroke-width="0.06" textLength="3.34" lengthAdjust="spacingAndGlyphs">†</text>
<text transform="translate(347 246.15) scale(1 1.08)" font-size="6" text-anchor="start" fill="#1a1a1a" stroke="#1a1a1a" stroke-width="0.06" textLength="36" lengthAdjust="spacingAndGlyphs">Urinary sepsis</text>
<path d="M369.9 272.5L372.5 268.1L375.1 272.5Z" fill="#e58b22"/>
<text x="372.5" y="282" font-size="7" text-anchor="middle" font-weight="normal" fill="#111" stroke="#111" stroke-width="0.08">T1</text>
<text transform="translate(394.87 159.5) scale(1.14 1)" font-size="13.4" font-weight="bold" fill="#000">H</text>
<text transform="translate(467.9 158.8) scale(1 1.1)" font-size="9.2" text-anchor="middle" fill="#111" stroke="#111" stroke-width="0.08" textLength="26.75" lengthAdjust="spacingAndGlyphs">CLL08</text>
<path d="M423.75 162.75V250.5H511.75" fill="none" stroke="#111" stroke-width="1.5"/>
<path d="M419.95 250.5H423.75" stroke="#111" stroke-width="1.1"/>
<text x="416.75" y="253" font-size="7" text-anchor="end" font-weight="normal" fill="#1a1a1a">0</text>
<path d="M419.95 229.31H423.75" stroke="#111" stroke-width="1.1"/>
<text x="416.75" y="231.81" font-size="7" text-anchor="end" font-weight="normal" fill="#1a1a1a">2</text>
<path d="M419.95 208.12H423.75" stroke="#111" stroke-width="1.1"/>
<text x="416.75" y="210.62" font-size="7" text-anchor="end" font-weight="normal" fill="#1a1a1a">4</text>
<path d="M419.95 186.94H423.75" stroke="#111" stroke-width="1.1"/>
<text x="416.75" y="189.44" font-size="7" text-anchor="end" font-weight="normal" fill="#1a1a1a">6</text>
<path d="M419.95 165.75H423.75" stroke="#111" stroke-width="1.1"/>
<text x="416.75" y="168.25" font-size="7" text-anchor="end" font-weight="normal" fill="#1a1a1a">8</text>
<path d="M423.75 250.5V253.9" stroke="#111" stroke-width="1.1"/>
<text x="423.75" y="263.4" font-size="7" text-anchor="middle" font-weight="normal" fill="#1a1a1a">0</text>
<path d="M452.08 250.5V253.9" stroke="#111" stroke-width="1.1"/>
<text x="452.08" y="263.4" font-size="7" text-anchor="middle" font-weight="normal" fill="#1a1a1a">5</text>
<path d="M480.42 250.5V253.9" stroke="#111" stroke-width="1.1"/>
<text x="480.42" y="263.4" font-size="7" text-anchor="middle" font-weight="normal" fill="#1a1a1a">10</text>
<path d="M508.75 250.5V253.9" stroke="#111" stroke-width="1.1"/>
<text x="508.75" y="263.4" font-size="7" text-anchor="middle" font-weight="normal" fill="#1a1a1a">15</text>
<path d="M423.75 179.5 L427.5 188.25 L432 185.75 L437.5 189.25 L443.25 196.25 L449.25 202 L454.5 208.25 L460.75 214.5 L480 222 L489.25 222 L497 225.5" fill="none" stroke="#ab1a3d" stroke-width="1.2" stroke-linejoin="round"/>
<circle cx="423.75" cy="179.5" r="1.5" fill="#a3163a"/>
<circle cx="427.5" cy="188.25" r="1.5" fill="#a3163a"/>
<circle cx="432" cy="185.75" r="1.5" fill="#a3163a"/>
<circle cx="437.5" cy="189.25" r="1.5" fill="#a3163a"/>
<circle cx="443.25" cy="196.25" r="1.5" fill="#a3163a"/>
<circle cx="449.25" cy="202" r="1.5" fill="#a3163a"/>
<circle cx="454.5" cy="208.25" r="1.5" fill="#a3163a"/>
<circle cx="460.75" cy="214.5" r="1.5" fill="#a3163a"/>
<circle cx="480" cy="222" r="1.5" fill="#a3163a"/>
<circle cx="489.25" cy="222" r="1.5" fill="#a3163a"/>
<circle cx="497" cy="225.5" r="1.5" fill="#a3163a"/>
<path d="M428.5 226.25V193.93" stroke="#1a1a1a" stroke-width="1.05"/>
<path d="M428.5 190.45L426 196.25L428.5 195.21L431 196.25Z" fill="#000"/>
<path d="M497.5 182.5V217.32" stroke="#1a1a1a" stroke-width="1.05"/>
<path d="M497.5 220.8L495 215L497.5 216.04L500 215Z" fill="#000"/>
<text transform="translate(468 173.1) scale(1 1.08)" font-size="6" text-anchor="start" fill="#1a1a1a" stroke="#1a1a1a" stroke-width="0.06" textLength="39.34" lengthAdjust="spacingAndGlyphs">Asymptomatic,</text>
<text transform="translate(468 180.1) scale(1 1.08)" font-size="6" text-anchor="start" fill="#1a1a1a" stroke="#1a1a1a" stroke-width="0.06" textLength="40.7" lengthAdjust="spacingAndGlyphs">No adenopathy</text>
<text transform="translate(426.25 233.6) scale(1 1.08)" font-size="6" text-anchor="start" fill="#1a1a1a" stroke="#1a1a1a" stroke-width="0.06" textLength="39.34" lengthAdjust="spacingAndGlyphs">Asymptomatic,</text>
<text transform="translate(426.25 240.6) scale(1 1.08)" font-size="6" text-anchor="start" fill="#1a1a1a" stroke="#1a1a1a" stroke-width="0.06" textLength="40.7" lengthAdjust="spacingAndGlyphs">No adenopathy</text>
<path d="M493.65 272.5L496.25 268.1L498.85 272.5Z" fill="#e58b22"/>
<text x="496.25" y="282" font-size="7" text-anchor="middle" font-weight="normal" fill="#111" stroke="#111" stroke-width="0.08">T1</text>
<text transform="translate(33.55 300) scale(1.5 1)" font-size="13.4" font-weight="bold" fill="#000">I</text>
<text transform="translate(99.6 300.75) scale(1 1.1)" font-size="9.2" text-anchor="middle" fill="#111" stroke="#111" stroke-width="0.08" textLength="26.75" lengthAdjust="spacingAndGlyphs">CLL09</text>
<path d="M56 305.75V392.5H142.5" fill="none" stroke="#111" stroke-width="1.5"/>
<path d="M52.2 392.5H56" stroke="#111" stroke-width="1.1"/>
<text x="49" y="395" font-size="7" text-anchor="end" font-weight="normal" fill="#1a1a1a">0</text>
<path d="M52.2 371.56H56" stroke="#111" stroke-width="1.1"/>
<text x="49" y="374.06" font-size="7" text-anchor="end" font-weight="normal" fill="#1a1a1a">5</text>
<path d="M52.2 350.62H56" stroke="#111" stroke-width="1.1"/>
<text x="49" y="353.12" font-size="7" text-anchor="end" font-weight="normal" fill="#1a1a1a">10</text>
<path d="M52.2 329.69H56" stroke="#111" stroke-width="1.1"/>
<text x="49" y="332.19" font-size="7" text-anchor="end" font-weight="normal" fill="#1a1a1a">15</text>
<path d="M52.2 308.75H56" stroke="#111" stroke-width="1.1"/>
<text x="49" y="311.25" font-size="7" text-anchor="end" font-weight="normal" fill="#1a1a1a">20</text>
<path d="M56.1 392.5V395.9" stroke="#111" stroke-width="1.1"/>
<text x="56.1" y="405.4" font-size="7" text-anchor="middle" font-weight="normal" fill="#1a1a1a">0</text>
<path d="M70 392.5V395.9" stroke="#111" stroke-width="1.1"/>
<text x="70" y="405.4" font-size="7" text-anchor="middle" font-weight="normal" fill="#1a1a1a">5</text>
<path d="M83.9 392.5V395.9" stroke="#111" stroke-width="1.1"/>
<text x="83.9" y="405.4" font-size="7" text-anchor="middle" font-weight="normal" fill="#1a1a1a">10</text>
<path d="M97.8 392.5V395.9" stroke="#111" stroke-width="1.1"/>
<text x="97.8" y="405.4" font-size="7" text-anchor="middle" font-weight="normal" fill="#1a1a1a">15</text>
<path d="M111.7 392.5V395.9" stroke="#111" stroke-width="1.1"/>
<text x="111.7" y="405.4" font-size="7" text-anchor="middle" font-weight="normal" fill="#1a1a1a">20</text>
<path d="M125.6 392.5V395.9" stroke="#111" stroke-width="1.1"/>
<text x="125.6" y="405.4" font-size="7" text-anchor="middle" font-weight="normal" fill="#1a1a1a">25</text>
<path d="M139.5 392.5V395.9" stroke="#111" stroke-width="1.1"/>
<text x="139.5" y="405.4" font-size="7" text-anchor="middle" font-weight="normal" fill="#1a1a1a">30</text>
<path d="M55.5 308.75 L58 308.75 L60.75 315.75 L62.5 323 L65.5 324.5 L67 318.25 L68.75 322.5 L72 337 L75 342 L78 337.5 L81.25 348.75 L84.25 343 L87 350.75 L90 350 L95 358.25 L98.25 365 L101.25 364.5 L104.25 368.25 L106.75 369.25 L109.5 368 L112.5 368.75 L115.75 373.25 L118.25 374.5 L121.25 374.5 L132 378.25" fill="none" stroke="#ab1a3d" stroke-width="1.2" stroke-linejoin="round"/>
<circle cx="55.5" cy="308.75" r="1.5" fill="#a3163a"/>
<circle cx="58" cy="308.75" r="1.5" fill="#a3163a"/>
<circle cx="60.75" cy="315.75" r="1.5" fill="#a3163a"/>
<circle cx="62.5" cy="323" r="1.5" fill="#a3163a"/>
<circle cx="65.5" cy="324.5" r="1.5" fill="#a3163a"/>
<circle cx="67" cy="318.25" r="1.5" fill="#a3163a"/>
<circle cx="68.75" cy="322.5" r="1.5" fill="#a3163a"/>
<circle cx="72" cy="337" r="1.5" fill="#a3163a"/>
<circle cx="75" cy="342" r="1.5" fill="#a3163a"/>
<circle cx="78" cy="337.5" r="1.5" fill="#a3163a"/>
<circle cx="81.25" cy="348.75" r="1.5" fill="#a3163a"/>
<circle cx="84.25" cy="343" r="1.5" fill="#a3163a"/>
<circle cx="87" cy="350.75" r="1.5" fill="#a3163a"/>
<circle cx="90" cy="350" r="1.5" fill="#a3163a"/>
<circle cx="95" cy="358.25" r="1.5" fill="#a3163a"/>
<circle cx="98.25" cy="365" r="1.5" fill="#a3163a"/>
<circle cx="101.25" cy="364.5" r="1.5" fill="#a3163a"/>
<circle cx="104.25" cy="368.25" r="1.5" fill="#a3163a"/>
<circle cx="106.75" cy="369.25" r="1.5" fill="#a3163a"/>
<circle cx="109.5" cy="368" r="1.5" fill="#a3163a"/>
<circle cx="112.5" cy="368.75" r="1.5" fill="#a3163a"/>
<circle cx="115.75" cy="373.25" r="1.5" fill="#a3163a"/>
<circle cx="118.25" cy="374.5" r="1.5" fill="#a3163a"/>
<circle cx="121.25" cy="374.5" r="1.5" fill="#a3163a"/>
<circle cx="132" cy="378.25" r="1.5" fill="#a3163a"/>
<path d="M78.5 313.75V331.82" stroke="#1a1a1a" stroke-width="1.05"/>
<path d="M78.5 335.3L76 329.5L78.5 330.54L81 329.5Z" fill="#000"/>
<path d="M58.5 370V325.18" stroke="#1a1a1a" stroke-width="1.05"/>
<path d="M58.5 321.7L56 327.5L58.5 326.46L61 327.5Z" fill="#000"/>
<path d="M132.5 323V371.82" stroke="#1a1a1a" stroke-width="1.05"/>
<path d="M132.5 375.3L130 369.5L132.5 370.54L135 369.5Z" fill="#000"/>
<text transform="translate(62.5 311.85) scale(1 1.08)" font-size="6" text-anchor="start" fill="#1a1a1a" stroke="#1a1a1a" stroke-width="0.06" textLength="34.35" lengthAdjust="spacingAndGlyphs">Night sweats</text>
<text transform="translate(58 378.1) scale(1 1.08)" font-size="6" text-anchor="start" fill="#1a1a1a" stroke="#1a1a1a" stroke-width="0.06" textLength="38.02" lengthAdjust="spacingAndGlyphs">Splenomegaly</text>
<text transform="translate(58 384.35) scale(1 1.08)" font-size="6" text-anchor="start" fill="#1a1a1a" stroke="#1a1a1a" stroke-width="0.06" textLength="13" lengthAdjust="spacingAndGlyphs">1 cm</text>
<text transform="translate(101.25 321.35) scale(1 1.08)" font-size="6" text-anchor="start" fill="#1a1a1a" stroke="#1a1a1a" stroke-width="0.06" textLength="39.34" lengthAdjust="spacingAndGlyphs">Asymptomatic,</text>
<text transform="translate(101.25 328.1) scale(1 1.08)" font-size="6" text-anchor="start" fill="#1a1a1a" stroke="#1a1a1a" stroke-width="0.06" textLength="40.7" lengthAdjust="spacingAndGlyphs">No adenopathy</text>
<path d="M130.4 415L133 410.6L135.6 415Z" fill="#e58b22"/>
<text x="133" y="424.5" font-size="7" text-anchor="middle" font-weight="normal" fill="#111" stroke="#111" stroke-width="0.08">T1</text>
<text transform="translate(153.5 300) scale(1 1)" font-size="13.4" font-weight="bold" fill="#000">J</text>
<text transform="translate(219.6 300.75) scale(1 1.1)" font-size="9.2" text-anchor="middle" fill="#111" stroke="#111" stroke-width="0.08" textLength="26.75" lengthAdjust="spacingAndGlyphs">CLL10</text>
<path d="M176.25 305.75V392.5H263" fill="none" stroke="#111" stroke-width="1.5"/>
<path d="M172.45 392.5H176.25" stroke="#111" stroke-width="1.1"/>
<text x="169.25" y="395" font-size="7" text-anchor="end" font-weight="normal" fill="#1a1a1a">0</text>
<path d="M172.45 364.58H176.25" stroke="#111" stroke-width="1.1"/>
<text x="169.25" y="367.08" font-size="7" text-anchor="end" font-weight="normal" fill="#1a1a1a">5</text>
<path d="M172.45 336.67H176.25" stroke="#111" stroke-width="1.1"/>
<text x="169.25" y="339.17" font-size="7" text-anchor="end" font-weight="normal" fill="#1a1a1a">10</text>
<path d="M172.45 308.75H176.25" stroke="#111" stroke-width="1.1"/>
<text x="169.25" y="311.25" font-size="7" text-anchor="end" font-weight="normal" fill="#1a1a1a">15</text>
<path d="M175.9 392.5V395.9" stroke="#111" stroke-width="1.1"/>
<text x="175.9" y="405.4" font-size="7" text-anchor="middle" font-weight="normal" fill="#1a1a1a">0</text>
<path d="M196.93 392.5V395.9" stroke="#111" stroke-width="1.1"/>
<text x="196.93" y="405.4" font-size="7" text-anchor="middle" font-weight="normal" fill="#1a1a1a">2</text>
<path d="M217.95 392.5V395.9" stroke="#111" stroke-width="1.1"/>
<text x="217.95" y="405.4" font-size="7" text-anchor="middle" font-weight="normal" fill="#1a1a1a">4</text>
<path d="M238.97 392.5V395.9" stroke="#111" stroke-width="1.1"/>
<text x="238.97" y="405.4" font-size="7" text-anchor="middle" font-weight="normal" fill="#1a1a1a">6</text>
<path d="M260 392.5V395.9" stroke="#111" stroke-width="1.1"/>
<text x="260" y="405.4" font-size="7" text-anchor="middle" font-weight="normal" fill="#1a1a1a">8</text>
<path d="M176.25 331.75 L183 320.75 L188.75 315.5 L216.25 355 L225.5 351.75 L233.5 368 L243.75 371.75 L259.5 371.25" fill="none" stroke="#ab1a3d" stroke-width="1.2" stroke-linejoin="round"/>
<circle cx="176.25" cy="331.75" r="1.5" fill="#a3163a"/>
<circle cx="183" cy="320.75" r="1.5" fill="#a3163a"/>
<circle cx="188.75" cy="315.5" r="1.5" fill="#a3163a"/>
<circle cx="216.25" cy="355" r="1.5" fill="#a3163a"/>
<circle cx="225.5" cy="351.75" r="1.5" fill="#a3163a"/>
<circle cx="233.5" cy="368" r="1.5" fill="#a3163a"/>
<circle cx="243.75" cy="371.75" r="1.5" fill="#a3163a"/>
<circle cx="259.5" cy="371.25" r="1.5" fill="#a3163a"/>
<path d="M180.5 370V334.68" stroke="#1a1a1a" stroke-width="1.05"/>
<path d="M180.5 331.2L178 337L180.5 335.96L183 337Z" fill="#000"/>
<path d="M259.5 327.5V364.82" stroke="#1a1a1a" stroke-width="1.05"/>
<path d="M259.5 368.3L257 362.5L259.5 363.54L262 362.5Z" fill="#000"/>
<text transform="translate(179.25 377.6) scale(1 1.08)" font-size="6" text-anchor="start" fill="#1a1a1a" stroke="#1a1a1a" stroke-width="0.06" textLength="39.34" lengthAdjust="spacingAndGlyphs">Asymptomatic,</text>
<text transform="translate(179.25 384.35) scale(1 1.08)" font-size="6" text-anchor="start" fill="#1a1a1a" stroke="#1a1a1a" stroke-width="0.06" textLength="40.7" lengthAdjust="spacingAndGlyphs">No adenopathy</text>
<text transform="translate(221.75 316.85) scale(1 1.08)" font-size="6" text-anchor="start" fill="#1a1a1a" stroke="#1a1a1a" stroke-width="0.06" textLength="39.34" lengthAdjust="spacingAndGlyphs">Asymptomatic,</text>
<text transform="translate(221.75 323.85) scale(1 1.08)" font-size="6" text-anchor="start" fill="#1a1a1a" stroke="#1a1a1a" stroke-width="0.06" textLength="40.7" lengthAdjust="spacingAndGlyphs">No adenopathy</text>
<path d="M257.4 415L260 410.6L262.6 415Z" fill="#e58b22"/>
<text x="260" y="424.5" font-size="7" text-anchor="middle" font-weight="normal" fill="#111" stroke="#111" stroke-width="0.08">T1</text>
<text transform="translate(269.43 300) scale(1.08 1)" font-size="13.4" font-weight="bold" fill="#000">K</text>
<text transform="translate(338.5 301.3) scale(1 1.1)" font-size="9.2" text-anchor="middle" fill="#111" stroke="#111" stroke-width="0.08" textLength="25.5" lengthAdjust="spacingAndGlyphs">CLL11</text>
<path d="M295.75 306.25V392.5H381.75" fill="none" stroke="#111" stroke-width="1.5"/>
<path d="M291.95 392.5H295.75" stroke="#111" stroke-width="1.1"/>
<text x="288.75" y="395" font-size="7" text-anchor="end" font-weight="normal" fill="#1a1a1a">0</text>
<path d="M291.95 364.75H295.75" stroke="#111" stroke-width="1.1"/>
<text x="288.75" y="367.25" font-size="7" text-anchor="end" font-weight="normal" fill="#1a1a1a">5</text>
<path d="M291.95 337H295.75" stroke="#111" stroke-width="1.1"/>
<text x="288.75" y="339.5" font-size="7" text-anchor="end" font-weight="normal" fill="#1a1a1a">10</text>
<path d="M291.95 309.25H295.75" stroke="#111" stroke-width="1.1"/>
<text x="288.75" y="311.75" font-size="7" text-anchor="end" font-weight="normal" fill="#1a1a1a">15</text>
<path d="M295.75 392.5V395.9" stroke="#111" stroke-width="1.1"/>
<text x="295.75" y="405.4" font-size="7" text-anchor="middle" font-weight="normal" fill="#1a1a1a">0</text>
<path d="M316.5 392.5V395.9" stroke="#111" stroke-width="1.1"/>
<text x="316.5" y="405.4" font-size="7" text-anchor="middle" font-weight="normal" fill="#1a1a1a">2</text>
<path d="M337.25 392.5V395.9" stroke="#111" stroke-width="1.1"/>
<text x="337.25" y="405.4" font-size="7" text-anchor="middle" font-weight="normal" fill="#1a1a1a">4</text>
<path d="M358 392.5V395.9" stroke="#111" stroke-width="1.1"/>
<text x="358" y="405.4" font-size="7" text-anchor="middle" font-weight="normal" fill="#1a1a1a">6</text>
<path d="M378.75 392.5V395.9" stroke="#111" stroke-width="1.1"/>
<text x="378.75" y="405.4" font-size="7" text-anchor="middle" font-weight="normal" fill="#1a1a1a">8</text>
<path d="M295.75 340.5 L300 312.5 L304.25 337.5 L340 359.5 L344.25 366.75 L365.75 375 L376.75 385.75" fill="none" stroke="#ab1a3d" stroke-width="1.2" stroke-linejoin="round"/>
<circle cx="295.75" cy="340.5" r="1.5" fill="#a3163a"/>
<circle cx="300" cy="312.5" r="1.5" fill="#a3163a"/>
<circle cx="304.25" cy="337.5" r="1.5" fill="#a3163a"/>
<circle cx="340" cy="359.5" r="1.5" fill="#a3163a"/>
<circle cx="344.25" cy="366.75" r="1.5" fill="#a3163a"/>
<circle cx="365.75" cy="375" r="1.5" fill="#a3163a"/>
<circle cx="376.75" cy="385.75" r="1.5" fill="#a3163a"/>
<path d="M299.5 371.25V343.43" stroke="#1a1a1a" stroke-width="1.05"/>
<path d="M299.5 339.95L297 345.75L299.5 344.71L302 345.75Z" fill="#000"/>
<path d="M378.5 330V375.57" stroke="#1a1a1a" stroke-width="1.05"/>
<path d="M378.5 379.05L376 373.25L378.5 374.29L381 373.25Z" fill="#000"/>
<text transform="translate(298 378.6) scale(1 1.08)" font-size="6" text-anchor="start" fill="#1a1a1a" stroke="#1a1a1a" stroke-width="0.06" textLength="39.34" lengthAdjust="spacingAndGlyphs">Asymptomatic,</text>
<text transform="translate(298 385.6) scale(1 1.08)" font-size="6" text-anchor="start" fill="#1a1a1a" stroke="#1a1a1a" stroke-width="0.06" textLength="40.7" lengthAdjust="spacingAndGlyphs">No adenopathy</text>
<text transform="translate(338.25 320.6) scale(1 1.08)" font-size="6" text-anchor="start" fill="#1a1a1a" stroke="#1a1a1a" stroke-width="0.06" textLength="39.34" lengthAdjust="spacingAndGlyphs">Asymptomatic,</text>
<text transform="translate(338.25 327.6) scale(1 1.08)" font-size="6" text-anchor="start" fill="#1a1a1a" stroke="#1a1a1a" stroke-width="0.06" textLength="40.7" lengthAdjust="spacingAndGlyphs">No adenopathy</text>
<path d="M375.65 415L378.25 410.6L380.85 415Z" fill="#e58b22"/>
<text x="378.25" y="424.5" font-size="7" text-anchor="middle" font-weight="normal" fill="#111" stroke="#111" stroke-width="0.08">T1</text>
<text transform="translate(398.13 300) scale(0.85 1)" font-size="13.4" font-weight="bold" fill="#000">L</text>
<text transform="translate(464.6 305.55) scale(1 1.1)" font-size="9.2" text-anchor="middle" fill="#111" stroke="#111" stroke-width="0.08" textLength="26.75" lengthAdjust="spacingAndGlyphs">CLL12</text>
<path d="M423.75 310.25V393H506" fill="none" stroke="#111" stroke-width="1.5"/>
<path d="M419.95 393H423.75" stroke="#111" stroke-width="1.1"/>
<text x="416.75" y="395.5" font-size="7" text-anchor="end" font-weight="normal" fill="#1a1a1a">0</text>
<path d="M419.95 373.06H423.75" stroke="#111" stroke-width="1.1"/>
<text x="416.75" y="375.56" font-size="7" text-anchor="end" font-weight="normal" fill="#1a1a1a">10</text>
<path d="M419.95 353.12H423.75" stroke="#111" stroke-width="1.1"/>
<text x="416.75" y="355.62" font-size="7" text-anchor="end" font-weight="normal" fill="#1a1a1a">20</text>
<path d="M419.95 333.19H423.75" stroke="#111" stroke-width="1.1"/>
<text x="416.75" y="335.69" font-size="7" text-anchor="end" font-weight="normal" fill="#1a1a1a">30</text>
<path d="M419.95 313.25H423.75" stroke="#111" stroke-width="1.1"/>
<text x="416.75" y="315.75" font-size="7" text-anchor="end" font-weight="normal" fill="#1a1a1a">40</text>
<path d="M423.75 393V396.4" stroke="#111" stroke-width="1.1"/>
<text x="423.75" y="405.9" font-size="7" text-anchor="middle" font-weight="normal" fill="#1a1a1a">0</text>
<path d="M443.56 393V396.4" stroke="#111" stroke-width="1.1"/>
<text x="443.56" y="405.9" font-size="7" text-anchor="middle" font-weight="normal" fill="#1a1a1a">4</text>
<path d="M463.38 393V396.4" stroke="#111" stroke-width="1.1"/>
<text x="463.38" y="405.9" font-size="7" text-anchor="middle" font-weight="normal" fill="#1a1a1a">8</text>
<path d="M483.19 393V396.4" stroke="#111" stroke-width="1.1"/>
<text x="483.19" y="405.9" font-size="7" text-anchor="middle" font-weight="normal" fill="#1a1a1a">12</text>
<path d="M503 393V396.4" stroke="#111" stroke-width="1.1"/>
<text x="503" y="405.9" font-size="7" text-anchor="middle" font-weight="normal" fill="#1a1a1a">16</text>
<path d="M423.75 325.5 L428 313.25 L430.75 313.25 L442 320 L445.75 336.75 L451.25 343 L455.5 351.25 L464.5 363.75 L475 373 L481.25 375 L485 375.75 L490 377.5 L493.25 380 L499.25 379.25" fill="none" stroke="#2e518f" stroke-width="1.05" stroke-linejoin="round"/>
<circle cx="423.75" cy="325.5" r="1.3" fill="#1f3d75"/>
<circle cx="428" cy="313.25" r="1.3" fill="#1f3d75"/>
<circle cx="430.75" cy="313.25" r="1.3" fill="#1f3d75"/>
<circle cx="442" cy="320" r="1.3" fill="#1f3d75"/>
<circle cx="445.75" cy="336.75" r="1.3" fill="#1f3d75"/>
<circle cx="451.25" cy="343" r="1.3" fill="#1f3d75"/>
<circle cx="455.5" cy="351.25" r="1.3" fill="#1f3d75"/>
<circle cx="464.5" cy="363.75" r="1.3" fill="#1f3d75"/>
<circle cx="475" cy="373" r="1.3" fill="#1f3d75"/>
<circle cx="481.25" cy="375" r="1.3" fill="#1f3d75"/>
<circle cx="485" cy="375.75" r="1.3" fill="#1f3d75"/>
<circle cx="490" cy="377.5" r="1.3" fill="#1f3d75"/>
<circle cx="493.25" cy="380" r="1.3" fill="#1f3d75"/>
<circle cx="499.25" cy="379.25" r="1.3" fill="#1f3d75"/>
<path d="M427.5 371.25V330.93" stroke="#1a1a1a" stroke-width="1.05"/>
<path d="M427.5 327.45L425 333.25L427.5 332.21L430 333.25Z" fill="#000"/>
<path d="M499.5 329.5V372.82" stroke="#1a1a1a" stroke-width="1.05"/>
<path d="M499.5 376.3L497 370.5L499.5 371.54L502 370.5Z" fill="#000"/>
<text transform="translate(426.25 378.85) scale(1 1.08)" font-size="6" text-anchor="start" fill="#1a1a1a" stroke="#1a1a1a" stroke-width="0.06" textLength="39.34" lengthAdjust="spacingAndGlyphs">Asymptomatic,</text>
<text transform="translate(426.25 385.6) scale(1 1.08)" font-size="6" text-anchor="start" fill="#1a1a1a" stroke="#1a1a1a" stroke-width="0.06" textLength="40.7" lengthAdjust="spacingAndGlyphs">No adenopathy</text>
<text transform="translate(464.25 321.35) scale(1 1.08)" font-size="6" text-anchor="start" fill="#1a1a1a" stroke="#1a1a1a" stroke-width="0.06" textLength="39.34" lengthAdjust="spacingAndGlyphs">Asymptomatic,</text>
<text transform="translate(464.25 328.1) scale(1 1.08)" font-size="6" text-anchor="start" fill="#1a1a1a" stroke="#1a1a1a" stroke-width="0.06" textLength="40.7" lengthAdjust="spacingAndGlyphs">No adenopathy</text>
<path d="M426.65 415L429.25 410.6L431.85 415Z" fill="#e58b22"/>
<text x="429.25" y="424.5" font-size="7" text-anchor="middle" font-weight="normal" fill="#111" stroke="#111" stroke-width="0.08">T0</text>
<path d="M494.4 415L497 410.6L499.6 415Z" fill="#e58b22"/>
<text x="497" y="424.5" font-size="7" text-anchor="middle" font-weight="normal" fill="#111" stroke="#111" stroke-width="0.08">T1</text>
<text transform="translate(26.35 440.75) scale(1.17 1)" font-size="13.4" font-weight="bold" fill="#000">M</text>
<text transform="translate(97.6 444.3) scale(1 1.1)" font-size="9.2" text-anchor="middle" fill="#111" stroke="#111" stroke-width="0.08" textLength="26.25" lengthAdjust="spacingAndGlyphs">CLL13</text>
<path d="M56 448.75V532.5H139.5" fill="none" stroke="#111" stroke-width="1.5"/>
<path d="M52.2 532.5H56" stroke="#111" stroke-width="1.1"/>
<text x="49" y="535" font-size="7" text-anchor="end" font-weight="normal" fill="#1a1a1a">0</text>
<path d="M52.2 512.31H56" stroke="#111" stroke-width="1.1"/>
<text x="49" y="514.81" font-size="7" text-anchor="end" font-weight="normal" fill="#1a1a1a">45</text>
<path d="M52.2 492.12H56" stroke="#111" stroke-width="1.1"/>
<text x="49" y="494.62" font-size="7" text-anchor="end" font-weight="normal" fill="#1a1a1a">90</text>
<path d="M52.2 471.94H56" stroke="#111" stroke-width="1.1"/>
<text x="49" y="474.44" font-size="7" text-anchor="end" font-weight="normal" fill="#1a1a1a">135</text>
<path d="M52.2 451.75H56" stroke="#111" stroke-width="1.1"/>
<text x="49" y="454.25" font-size="7" text-anchor="end" font-weight="normal" fill="#1a1a1a">180</text>
<path d="M55.6 532.5V535.9" stroke="#111" stroke-width="1.1"/>
<text x="55.6" y="545.4" font-size="7" text-anchor="middle" font-weight="normal" fill="#1a1a1a">0</text>
<path d="M75.83 532.5V535.9" stroke="#111" stroke-width="1.1"/>
<text x="75.83" y="545.4" font-size="7" text-anchor="middle" font-weight="normal" fill="#1a1a1a">1</text>
<path d="M96.05 532.5V535.9" stroke="#111" stroke-width="1.1"/>
<text x="96.05" y="545.4" font-size="7" text-anchor="middle" font-weight="normal" fill="#1a1a1a">2</text>
<path d="M116.28 532.5V535.9" stroke="#111" stroke-width="1.1"/>
<text x="116.28" y="545.4" font-size="7" text-anchor="middle" font-weight="normal" fill="#1a1a1a">3</text>
<path d="M136.5 532.5V535.9" stroke="#111" stroke-width="1.1"/>
<text x="136.5" y="545.4" font-size="7" text-anchor="middle" font-weight="normal" fill="#1a1a1a">4</text>
<path d="M55.5 461.25 L58 463.75 L59.25 463.75 L61.25 495.5 L66.25 525 L70.75 530 L75.5 530.5 L80.5 530.5 L85 531.75 L87 531.25 L93 530 L102.25 527.25 L104.75 525.75 L107.25 527 L110.75 526.25 L114.5 527.5 L129.5 526.25" fill="none" stroke="#2e518f" stroke-width="1.05" stroke-linejoin="round"/>
<circle cx="55.5" cy="461.25" r="1.3" fill="#1f3d75"/>
<circle cx="58" cy="463.75" r="1.3" fill="#1f3d75"/>
<circle cx="59.25" cy="463.75" r="1.3" fill="#1f3d75"/>
<circle cx="61.25" cy="495.5" r="1.3" fill="#1f3d75"/>
<circle cx="66.25" cy="525" r="1.3" fill="#1f3d75"/>
<circle cx="70.75" cy="530" r="1.3" fill="#1f3d75"/>
<circle cx="75.5" cy="530.5" r="1.3" fill="#1f3d75"/>
<circle cx="80.5" cy="530.5" r="1.3" fill="#1f3d75"/>
<circle cx="85" cy="531.75" r="1.3" fill="#1f3d75"/>
<circle cx="87" cy="531.25" r="1.3" fill="#1f3d75"/>
<circle cx="93" cy="530" r="1.3" fill="#1f3d75"/>
<circle cx="102.25" cy="527.25" r="1.3" fill="#1f3d75"/>
<circle cx="104.75" cy="525.75" r="1.3" fill="#1f3d75"/>
<circle cx="107.25" cy="527" r="1.3" fill="#1f3d75"/>
<circle cx="110.75" cy="526.25" r="1.3" fill="#1f3d75"/>
<circle cx="114.5" cy="527.5" r="1.3" fill="#1f3d75"/>
<circle cx="129.5" cy="526.25" r="1.3" fill="#1f3d75"/>
<path d="M130.5 490V519.82" stroke="#1a1a1a" stroke-width="1.05"/>
<path d="M130.5 523.3L128 517.5L130.5 518.54L133 517.5Z" fill="#000"/>
<path d="M66.75 453.75L62.95 458.93" stroke="#1a1a1a" stroke-width="1.05"/>
<path d="M60.9 461.73L62.31 455.58L63.71 457.9L66.34 458.54Z" fill="#000"/>
<text transform="translate(69.25 456.85) scale(1 1.08)" font-size="6" text-anchor="start" fill="#1a1a1a" stroke="#1a1a1a" stroke-width="0.06" textLength="49.69" lengthAdjust="spacingAndGlyphs">Mild splenomegaly</text>
<text transform="translate(98.75 481.85) scale(1 1.08)" font-size="6" text-anchor="start" fill="#1a1a1a" stroke="#1a1a1a" stroke-width="0.06" textLength="39.34" lengthAdjust="spacingAndGlyphs">Asymptomatic,</text>
<text transform="translate(98.75 488.85) scale(1 1.08)" font-size="6" text-anchor="start" fill="#1a1a1a" stroke="#1a1a1a" stroke-width="0.06" textLength="40.7" lengthAdjust="spacingAndGlyphs">No adenopathy</text>
<path d="M130.4 555L133 550.6L135.6 555Z" fill="#e58b22"/>
<text x="133" y="564.5" font-size="7" text-anchor="middle" font-weight="normal" fill="#111" stroke="#111" stroke-width="0.08">T1</text>
<text transform="translate(149.37 440.75) scale(1.14 1)" font-size="13.4" font-weight="bold" fill="#000">N</text>
<text transform="translate(219.1 442.55) scale(1 1.1)" font-size="9.2" text-anchor="middle" fill="#111" stroke="#111" stroke-width="0.08" textLength="26.75" lengthAdjust="spacingAndGlyphs">CLL14</text>
<path d="M176.25 446.25V532.5H262.25" fill="none" stroke="#111" stroke-width="1.5"/>
<path d="M172.45 532.5H176.25" stroke="#111" stroke-width="1.1"/>
<text x="169.25" y="535" font-size="7" text-anchor="end" font-weight="normal" fill="#1a1a1a">0</text>
<path d="M172.45 515.85H176.25" stroke="#111" stroke-width="1.1"/>
<text x="169.25" y="518.35" font-size="7" text-anchor="end" font-weight="normal" fill="#1a1a1a">10</text>
<path d="M172.45 499.2H176.25" stroke="#111" stroke-width="1.1"/>
<text x="169.25" y="501.7" font-size="7" text-anchor="end" font-weight="normal" fill="#1a1a1a">20</text>
<path d="M172.45 482.55H176.25" stroke="#111" stroke-width="1.1"/>
<text x="169.25" y="485.05" font-size="7" text-anchor="end" font-weight="normal" fill="#1a1a1a">30</text>
<path d="M172.45 465.9H176.25" stroke="#111" stroke-width="1.1"/>
<text x="169.25" y="468.4" font-size="7" text-anchor="end" font-weight="normal" fill="#1a1a1a">40</text>
<path d="M172.45 449.25H176.25" stroke="#111" stroke-width="1.1"/>
<text x="169.25" y="451.75" font-size="7" text-anchor="end" font-weight="normal" fill="#1a1a1a">50</text>
<path d="M175.75 532.5V535.9" stroke="#111" stroke-width="1.1"/>
<text x="175.75" y="545.4" font-size="7" text-anchor="middle" font-weight="normal" fill="#1a1a1a">0</text>
<path d="M196.62 532.5V535.9" stroke="#111" stroke-width="1.1"/>
<text x="196.62" y="545.4" font-size="7" text-anchor="middle" font-weight="normal" fill="#1a1a1a">2</text>
<path d="M217.5 532.5V535.9" stroke="#111" stroke-width="1.1"/>
<text x="217.5" y="545.4" font-size="7" text-anchor="middle" font-weight="normal" fill="#1a1a1a">4</text>
<path d="M238.38 532.5V535.9" stroke="#111" stroke-width="1.1"/>
<text x="238.38" y="545.4" font-size="7" text-anchor="middle" font-weight="normal" fill="#1a1a1a">6</text>
<path d="M259.25 532.5V535.9" stroke="#111" stroke-width="1.1"/>
<text x="259.25" y="545.4" font-size="7" text-anchor="middle" font-weight="normal" fill="#1a1a1a">8</text>
<path d="M176.25 458.75 L184.5 497 L190 509.25 L193 505.5 L198 513.75 L208.75 511.25 L219.25 514 L230 520 L240 518.25 L254.75 519" fill="none" stroke="#2e518f" stroke-width="1.05" stroke-linejoin="round"/>
<circle cx="176.25" cy="458.75" r="1.3" fill="#1f3d75"/>
<circle cx="184.5" cy="497" r="1.3" fill="#1f3d75"/>
<circle cx="190" cy="509.25" r="1.3" fill="#1f3d75"/>
<circle cx="193" cy="505.5" r="1.3" fill="#1f3d75"/>
<circle cx="198" cy="513.75" r="1.3" fill="#1f3d75"/>
<circle cx="208.75" cy="511.25" r="1.3" fill="#1f3d75"/>
<circle cx="219.25" cy="514" r="1.3" fill="#1f3d75"/>
<circle cx="230" cy="520" r="1.3" fill="#1f3d75"/>
<circle cx="240" cy="518.25" r="1.3" fill="#1f3d75"/>
<circle cx="254.75" cy="519" r="1.3" fill="#1f3d75"/>
<path d="M254.5 478.75V509.82" stroke="#1a1a1a" stroke-width="1.05"/>
<path d="M254.5 513.3L252 507.5L254.5 508.54L257 507.5Z" fill="#000"/>
<path d="M186.25 453.75L181.81 457.04" stroke="#1a1a1a" stroke-width="1.05"/>
<path d="M179.02 459.11L182.19 453.65L182.84 456.28L185.17 457.66Z" fill="#000"/>
<text transform="translate(189.25 455.85) scale(1 1.08)" font-size="6" text-anchor="start" fill="#1a1a1a" stroke="#1a1a1a" stroke-width="0.06" textLength="34.35" lengthAdjust="spacingAndGlyphs">Night sweats</text>
<text transform="translate(219.25 468.35) scale(1 1.08)" font-size="6" text-anchor="start" fill="#1a1a1a" stroke="#1a1a1a" stroke-width="0.06" textLength="39.34" lengthAdjust="spacingAndGlyphs">Asymptomatic,</text>
<text transform="translate(219.25 475.35) scale(1 1.08)" font-size="6" text-anchor="start" fill="#1a1a1a" stroke="#1a1a1a" stroke-width="0.06" textLength="40.7" lengthAdjust="spacingAndGlyphs">No adenopathy</text>
<path d="M257.4 555L260 550.6L262.6 555Z" fill="#e58b22"/>
<text x="260" y="564.5" font-size="7" text-anchor="middle" font-weight="normal" fill="#111" stroke="#111" stroke-width="0.08">T1</text>
<text transform="translate(268.45 440.5) scale(1.05 1)" font-size="13.4" font-weight="bold" fill="#000">O</text>
<text transform="translate(337.9 443.8) scale(1 1.1)" font-size="9.2" text-anchor="middle" fill="#111" stroke="#111" stroke-width="0.08" textLength="26.75" lengthAdjust="spacingAndGlyphs">CLL15</text>
<path d="M295.75 448.75V532.5H379.25" fill="none" stroke="#111" stroke-width="1.5"/>
<path d="M291.95 532.5H295.75" stroke="#111" stroke-width="1.1"/>
<text x="288.75" y="535" font-size="7" text-anchor="end" font-weight="normal" fill="#1a1a1a">0</text>
<path d="M291.95 505.58H295.75" stroke="#111" stroke-width="1.1"/>
<text x="288.75" y="508.08" font-size="7" text-anchor="end" font-weight="normal" fill="#1a1a1a">10</text>
<path d="M291.95 478.67H295.75" stroke="#111" stroke-width="1.1"/>
<text x="288.75" y="481.17" font-size="7" text-anchor="end" font-weight="normal" fill="#1a1a1a">20</text>
<path d="M291.95 451.75H295.75" stroke="#111" stroke-width="1.1"/>
<text x="288.75" y="454.25" font-size="7" text-anchor="end" font-weight="normal" fill="#1a1a1a">30</text>
<path d="M295.75 532.5V535.9" stroke="#111" stroke-width="1.1"/>
<text x="295.75" y="545.4" font-size="7" text-anchor="middle" font-weight="normal" fill="#1a1a1a">0</text>
<path d="M322.58 532.5V535.9" stroke="#111" stroke-width="1.1"/>
<text x="322.58" y="545.4" font-size="7" text-anchor="middle" font-weight="normal" fill="#1a1a1a">4</text>
<path d="M349.42 532.5V535.9" stroke="#111" stroke-width="1.1"/>
<text x="349.42" y="545.4" font-size="7" text-anchor="middle" font-weight="normal" fill="#1a1a1a">8</text>
<path d="M376.25 532.5V535.9" stroke="#111" stroke-width="1.1"/>
<text x="376.25" y="545.4" font-size="7" text-anchor="middle" font-weight="normal" fill="#1a1a1a">12</text>
<path d="M295.75 473.25 L297.5 475.75 L299.25 480 L302.5 463 L305.75 486.75 L309.25 500.75 L312.5 508 L316.25 499.25 L319.25 502.5 L324.5 498 L329.5 504.5 L334.5 506.25 L339.5 505 L342.5 509.25 L347.5 510.5 L353 520.5 L356.25 518.75 L361.25 521.75 L366.25 523.25 L376.75 520.5" fill="none" stroke="#2e518f" stroke-width="1.05" stroke-linejoin="round"/>
<circle cx="295.75" cy="473.25" r="1.3" fill="#1f3d75"/>
<circle cx="297.5" cy="475.75" r="1.3" fill="#1f3d75"/>
<circle cx="299.25" cy="480" r="1.3" fill="#1f3d75"/>
<circle cx="302.5" cy="463" r="1.3" fill="#1f3d75"/>
<circle cx="305.75" cy="486.75" r="1.3" fill="#1f3d75"/>
<circle cx="309.25" cy="500.75" r="1.3" fill="#1f3d75"/>
<circle cx="312.5" cy="508" r="1.3" fill="#1f3d75"/>
<circle cx="316.25" cy="499.25" r="1.3" fill="#1f3d75"/>
<circle cx="319.25" cy="502.5" r="1.3" fill="#1f3d75"/>
<circle cx="324.5" cy="498" r="1.3" fill="#1f3d75"/>
<circle cx="329.5" cy="504.5" r="1.3" fill="#1f3d75"/>
<circle cx="334.5" cy="506.25" r="1.3" fill="#1f3d75"/>
<circle cx="339.5" cy="505" r="1.3" fill="#1f3d75"/>
<circle cx="342.5" cy="509.25" r="1.3" fill="#1f3d75"/>
<circle cx="347.5" cy="510.5" r="1.3" fill="#1f3d75"/>
<circle cx="353" cy="520.5" r="1.3" fill="#1f3d75"/>
<circle cx="356.25" cy="518.75" r="1.3" fill="#1f3d75"/>
<circle cx="361.25" cy="521.75" r="1.3" fill="#1f3d75"/>
<circle cx="366.25" cy="523.25" r="1.3" fill="#1f3d75"/>
<circle cx="376.75" cy="520.5" r="1.3" fill="#1f3d75"/>
<path d="M376.5 481.25V512.32" stroke="#1a1a1a" stroke-width="1.05"/>
<path d="M376.5 515.8L374 510L376.5 511.04L379 510Z" fill="#000"/>
<path d="M299.5 515V486.43" stroke="#1a1a1a" stroke-width="1.05"/>
<path d="M299.5 482.95L297 488.75L299.5 487.71L302 488.75Z" fill="#000"/>
<path d="M312.5 455.5L307.4 458.9" stroke="#1a1a1a" stroke-width="1.05"/>
<path d="M304.5 460.83L307.94 455.54L308.46 458.19L310.71 459.7Z" fill="#000"/>
<text transform="translate(313.75 458.85) scale(1 1.08)" font-size="6" text-anchor="start" fill="#1a1a1a" stroke="#1a1a1a" stroke-width="0.06" textLength="53.36" lengthAdjust="spacingAndGlyphs">Hepatomegaly 1 cm</text>
<text transform="translate(340.75 473.6) scale(1 1.08)" font-size="6" text-anchor="start" fill="#1a1a1a" stroke="#1a1a1a" stroke-width="0.06" textLength="32.68" lengthAdjust="spacingAndGlyphs">Residual LN</text>
<text transform="translate(340.75 480.6) scale(1 1.08)" font-size="6" text-anchor="start" fill="#1a1a1a" stroke="#1a1a1a" stroke-width="0.06" textLength="41.68" lengthAdjust="spacingAndGlyphs">cervical, 1.5 cm</text>
<text transform="translate(298.25 522.35) scale(1 1.08)" font-size="6" text-anchor="start" fill="#1a1a1a" stroke="#1a1a1a" stroke-width="0.06" textLength="31.34" lengthAdjust="spacingAndGlyphs">LN cervical,</text>
<text transform="translate(298.25 529.35) scale(1 1.08)" font-size="6" text-anchor="start" fill="#1a1a1a" stroke="#1a1a1a" stroke-width="0.06" textLength="13" lengthAdjust="spacingAndGlyphs">3 cm</text>
<path d="M375.4 555L378 550.6L380.6 555Z" fill="#e58b22"/>
<text x="378" y="564.5" font-size="7" text-anchor="middle" font-weight="normal" fill="#111" stroke="#111" stroke-width="0.08">T1</text>
<text transform="translate(395.95 440.75) scale(1.05 1)" font-size="13.4" font-weight="bold" fill="#000">P</text>
<text transform="translate(467.9 446.8) scale(1 1.1)" font-size="9.2" text-anchor="middle" fill="#111" stroke="#111" stroke-width="0.08" textLength="26.75" lengthAdjust="spacingAndGlyphs">CLL16</text>
<path d="M423.75 448.75V532.5H508.5" fill="none" stroke="#111" stroke-width="1.5"/>
<path d="M419.95 532.5H423.75" stroke="#111" stroke-width="1.1"/>
<text x="416.75" y="535" font-size="7" text-anchor="end" font-weight="normal" fill="#1a1a1a">0</text>
<path d="M419.95 512.31H423.75" stroke="#111" stroke-width="1.1"/>
<text x="416.75" y="514.81" font-size="7" text-anchor="end" font-weight="normal" fill="#1a1a1a">5</text>
<path d="M419.95 492.12H423.75" stroke="#111" stroke-width="1.1"/>
<text x="416.75" y="494.62" font-size="7" text-anchor="end" font-weight="normal" fill="#1a1a1a">10</text>
<path d="M419.95 471.94H423.75" stroke="#111" stroke-width="1.1"/>
<text x="416.75" y="474.44" font-size="7" text-anchor="end" font-weight="normal" fill="#1a1a1a">15</text>
<path d="M419.95 451.75H423.75" stroke="#111" stroke-width="1.1"/>
<text x="416.75" y="454.25" font-size="7" text-anchor="end" font-weight="normal" fill="#1a1a1a">20</text>
<path d="M423.75 532.5V535.9" stroke="#111" stroke-width="1.1"/>
<text x="423.75" y="545.4" font-size="7" text-anchor="middle" font-weight="normal" fill="#1a1a1a">0</text>
<path d="M440.1 532.5V535.9" stroke="#111" stroke-width="1.1"/>
<text x="440.1" y="545.4" font-size="7" text-anchor="middle" font-weight="normal" fill="#1a1a1a">2</text>
<path d="M456.45 532.5V535.9" stroke="#111" stroke-width="1.1"/>
<text x="456.45" y="545.4" font-size="7" text-anchor="middle" font-weight="normal" fill="#1a1a1a">4</text>
<path d="M472.8 532.5V535.9" stroke="#111" stroke-width="1.1"/>
<text x="472.8" y="545.4" font-size="7" text-anchor="middle" font-weight="normal" fill="#1a1a1a">6</text>
<path d="M489.15 532.5V535.9" stroke="#111" stroke-width="1.1"/>
<text x="489.15" y="545.4" font-size="7" text-anchor="middle" font-weight="normal" fill="#1a1a1a">8</text>
<path d="M505.5 532.5V535.9" stroke="#111" stroke-width="1.1"/>
<text x="505.5" y="545.4" font-size="7" text-anchor="middle" font-weight="normal" fill="#1a1a1a">10</text>
<path d="M423.75 452.5 L434.25 465.5 L437.5 474.25 L441.25 475.5 L445.5 480.5 L449.25 477 L453 482.5 L461.25 490 L465.5 496.25 L471.25 493.75 L475 500 L478.75 503.75 L485 508.25 L491.75 504.5 L497.5 505.5" fill="none" stroke="#2e518f" stroke-width="1.05" stroke-linejoin="round"/>
<circle cx="423.75" cy="452.5" r="1.3" fill="#1f3d75"/>
<circle cx="434.25" cy="465.5" r="1.3" fill="#1f3d75"/>
<circle cx="437.5" cy="474.25" r="1.3" fill="#1f3d75"/>
<circle cx="441.25" cy="475.5" r="1.3" fill="#1f3d75"/>
<circle cx="445.5" cy="480.5" r="1.3" fill="#1f3d75"/>
<circle cx="449.25" cy="477" r="1.3" fill="#1f3d75"/>
<circle cx="453" cy="482.5" r="1.3" fill="#1f3d75"/>
<circle cx="461.25" cy="490" r="1.3" fill="#1f3d75"/>
<circle cx="465.5" cy="496.25" r="1.3" fill="#1f3d75"/>
<circle cx="471.25" cy="493.75" r="1.3" fill="#1f3d75"/>
<circle cx="475" cy="500" r="1.3" fill="#1f3d75"/>
<circle cx="478.75" cy="503.75" r="1.3" fill="#1f3d75"/>
<circle cx="485" cy="508.25" r="1.3" fill="#1f3d75"/>
<circle cx="491.75" cy="504.5" r="1.3" fill="#1f3d75"/>
<circle cx="497.5" cy="505.5" r="1.3" fill="#1f3d75"/>
<path d="M428.5 507.5V470.93" stroke="#1a1a1a" stroke-width="1.05"/>
<path d="M428.5 467.45L426 473.25L428.5 472.21L431 473.25Z" fill="#000"/>
<path d="M497.5 471.25V498.57" stroke="#1a1a1a" stroke-width="1.05"/>
<path d="M497.5 502.05L495 496.25L497.5 497.29L500 496.25Z" fill="#000"/>
<text transform="translate(426.25 514.85) scale(1 1.08)" font-size="6" text-anchor="start" fill="#1a1a1a" stroke="#1a1a1a" stroke-width="0.06" textLength="39.34" lengthAdjust="spacingAndGlyphs">Asymptomatic,</text>
<text transform="translate(426.25 521.85) scale(1 1.08)" font-size="6" text-anchor="start" fill="#1a1a1a" stroke="#1a1a1a" stroke-width="0.06" textLength="40.7" lengthAdjust="spacingAndGlyphs">No adenopathy</text>
<text transform="translate(466.25 460.6) scale(1 1.08)" font-size="6" text-anchor="start" fill="#1a1a1a" stroke="#1a1a1a" stroke-width="0.06" textLength="39.34" lengthAdjust="spacingAndGlyphs">Asymptomatic,</text>
<text transform="translate(466.25 467.6) scale(1 1.08)" font-size="6" text-anchor="start" fill="#1a1a1a" stroke="#1a1a1a" stroke-width="0.06" textLength="40.7" lengthAdjust="spacingAndGlyphs">No adenopathy</text>
<path d="M495.4 555L498 550.6L500.6 555Z" fill="#e58b22"/>
<text x="498" y="564.5" font-size="7" text-anchor="middle" font-weight="normal" fill="#111" stroke="#111" stroke-width="0.08">T1</text>
<text transform="translate(28 583.75) scale(1 1)" font-size="13.4" font-weight="bold" fill="#000">Q</text>
<text transform="translate(97.1 585.8) scale(1 1.1)" font-size="9.2" text-anchor="middle" fill="#111" stroke="#111" stroke-width="0.08" textLength="26.5" lengthAdjust="spacingAndGlyphs">CLL17</text>
<path d="M56 590.5V673H138" fill="none" stroke="#111" stroke-width="1.5"/>
<path d="M52.2 673H56" stroke="#111" stroke-width="1.1"/>
<text x="49" y="675.5" font-size="7" text-anchor="end" font-weight="normal" fill="#1a1a1a">0</text>
<path d="M52.2 657.1H56" stroke="#111" stroke-width="1.1"/>
<text x="49" y="659.6" font-size="7" text-anchor="end" font-weight="normal" fill="#1a1a1a">10</text>
<path d="M52.2 641.2H56" stroke="#111" stroke-width="1.1"/>
<text x="49" y="643.7" font-size="7" text-anchor="end" font-weight="normal" fill="#1a1a1a">20</text>
<path d="M52.2 625.3H56" stroke="#111" stroke-width="1.1"/>
<text x="49" y="627.8" font-size="7" text-anchor="end" font-weight="normal" fill="#1a1a1a">30</text>
<path d="M52.2 609.4H56" stroke="#111" stroke-width="1.1"/>
<text x="49" y="611.9" font-size="7" text-anchor="end" font-weight="normal" fill="#1a1a1a">40</text>
<path d="M52.2 593.5H56" stroke="#111" stroke-width="1.1"/>
<text x="49" y="596" font-size="7" text-anchor="end" font-weight="normal" fill="#1a1a1a">50</text>
<path d="M55.5 673V676.4" stroke="#111" stroke-width="1.1"/>
<text x="55.5" y="685.9" font-size="7" text-anchor="middle" font-weight="normal" fill="#1a1a1a">0</text>
<path d="M82 673V676.4" stroke="#111" stroke-width="1.1"/>
<text x="82" y="685.9" font-size="7" text-anchor="middle" font-weight="normal" fill="#1a1a1a">2</text>
<path d="M108.5 673V676.4" stroke="#111" stroke-width="1.1"/>
<text x="108.5" y="685.9" font-size="7" text-anchor="middle" font-weight="normal" fill="#1a1a1a">4</text>
<path d="M135 673V676.4" stroke="#111" stroke-width="1.1"/>
<text x="135" y="685.9" font-size="7" text-anchor="middle" font-weight="normal" fill="#1a1a1a">6</text>
<path d="M55.5 606 L69.5 612.5 L76.75 619.5 L83.75 622.5 L97 629 L111.25 634 L118.75 638.25 L135 646.75" fill="none" stroke="#2e518f" stroke-width="1.05" stroke-linejoin="round"/>
<circle cx="55.5" cy="606" r="1.3" fill="#1f3d75"/>
<circle cx="69.5" cy="612.5" r="1.3" fill="#1f3d75"/>
<circle cx="76.75" cy="619.5" r="1.3" fill="#1f3d75"/>
<circle cx="83.75" cy="622.5" r="1.3" fill="#1f3d75"/>
<circle cx="97" cy="629" r="1.3" fill="#1f3d75"/>
<circle cx="111.25" cy="634" r="1.3" fill="#1f3d75"/>
<circle cx="118.75" cy="638.25" r="1.3" fill="#1f3d75"/>
<circle cx="135" cy="646.75" r="1.3" fill="#1f3d75"/>
<path d="M59.5 646.25V614.68" stroke="#1a1a1a" stroke-width="1.05"/>
<path d="M59.5 611.2L57 617L59.5 615.96L62 617Z" fill="#000"/>
<path d="M135.5 608.75V639.82" stroke="#1a1a1a" stroke-width="1.05"/>
<path d="M135.5 643.3L133 637.5L135.5 638.54L138 637.5Z" fill="#000"/>
<text transform="translate(58 654.35) scale(1 1.08)" font-size="6" text-anchor="start" fill="#1a1a1a" stroke="#1a1a1a" stroke-width="0.06" textLength="31.34" lengthAdjust="spacingAndGlyphs">LN, cervical</text>
<text transform="translate(58 661.35) scale(1 1.08)" font-size="6" text-anchor="start" fill="#1a1a1a" stroke="#1a1a1a" stroke-width="0.06" textLength="24.34" lengthAdjust="spacingAndGlyphs">&amp; axillary</text>
<text transform="translate(100.75 600.6) scale(1 1.08)" font-size="6" text-anchor="start" fill="#1a1a1a" stroke="#1a1a1a" stroke-width="0.06" textLength="39.34" lengthAdjust="spacingAndGlyphs">Asymptomatic,</text>
<text transform="translate(100.75 607.85) scale(1 1.08)" font-size="6" text-anchor="start" fill="#1a1a1a" stroke="#1a1a1a" stroke-width="0.06" textLength="40.7" lengthAdjust="spacingAndGlyphs">No adenopathy</text>
<text transform="translate(152.04 583.75) scale(0.95 1)" font-size="13.4" font-weight="bold" fill="#000">R</text>
<text transform="translate(218.75 583.3) scale(1 1.1)" font-size="9.2" text-anchor="middle" fill="#111" stroke="#111" stroke-width="0.08" textLength="26.5" lengthAdjust="spacingAndGlyphs">CLL18</text>
<path d="M176.25 588.25V673H260.5" fill="none" stroke="#111" stroke-width="1.5"/>
<path d="M172.45 673H176.25" stroke="#111" stroke-width="1.1"/>
<text x="169.25" y="675.5" font-size="7" text-anchor="end" font-weight="normal" fill="#1a1a1a">0</text>
<path d="M172.45 656.65H176.25" stroke="#111" stroke-width="1.1"/>
<text x="169.25" y="659.15" font-size="7" text-anchor="end" font-weight="normal" fill="#1a1a1a">10</text>
<path d="M172.45 640.3H176.25" stroke="#111" stroke-width="1.1"/>
<text x="169.25" y="642.8" font-size="7" text-anchor="end" font-weight="normal" fill="#1a1a1a">20</text>
<path d="M172.45 623.95H176.25" stroke="#111" stroke-width="1.1"/>
<text x="169.25" y="626.45" font-size="7" text-anchor="end" font-weight="normal" fill="#1a1a1a">30</text>
<path d="M172.45 607.6H176.25" stroke="#111" stroke-width="1.1"/>
<text x="169.25" y="610.1" font-size="7" text-anchor="end" font-weight="normal" fill="#1a1a1a">40</text>
<path d="M172.45 591.25H176.25" stroke="#111" stroke-width="1.1"/>
<text x="169.25" y="593.75" font-size="7" text-anchor="end" font-weight="normal" fill="#1a1a1a">50</text>
<path d="M175.75 673V676.4" stroke="#111" stroke-width="1.1"/>
<text x="175.75" y="685.9" font-size="7" text-anchor="middle" font-weight="normal" fill="#1a1a1a">0</text>
<path d="M196.19 673V676.4" stroke="#111" stroke-width="1.1"/>
<text x="196.19" y="685.9" font-size="7" text-anchor="middle" font-weight="normal" fill="#1a1a1a">2</text>
<path d="M216.62 673V676.4" stroke="#111" stroke-width="1.1"/>
<text x="216.62" y="685.9" font-size="7" text-anchor="middle" font-weight="normal" fill="#1a1a1a">4</text>
<path d="M237.06 673V676.4" stroke="#111" stroke-width="1.1"/>
<text x="237.06" y="685.9" font-size="7" text-anchor="middle" font-weight="normal" fill="#1a1a1a">6</text>
<path d="M257.5 673V676.4" stroke="#111" stroke-width="1.1"/>
<text x="257.5" y="685.9" font-size="7" text-anchor="middle" font-weight="normal" fill="#1a1a1a">8</text>
<path d="M176.25 591.25V673" stroke="#64b639" stroke-width="1.3"/>
<path d="M176.25 591.25 L179.25 595.5 L180.75 608 L182 621.75 L194.5 640.75 L199.25 650.5 L203.75 653.75 L206.75 657.5 L212 658.75 L215.75 660.75 L223.75 663.25 L227.5 663.75 L232.5 666.25 L238.25 665.5 L243.25 665.5 L250 666.25 L253 667 L258 669.75" fill="none" stroke="#64b639" stroke-width="1.15" stroke-linejoin="round"/>
<circle cx="176.25" cy="591.25" r="1.3" fill="#4a9e28"/>
<circle cx="179.25" cy="595.5" r="1.3" fill="#4a9e28"/>
<circle cx="180.75" cy="608" r="1.3" fill="#4a9e28"/>
<circle cx="182" cy="621.75" r="1.3" fill="#4a9e28"/>
<circle cx="194.5" cy="640.75" r="1.3" fill="#4a9e28"/>
<circle cx="199.25" cy="650.5" r="1.3" fill="#4a9e28"/>
<circle cx="203.75" cy="653.75" r="1.3" fill="#4a9e28"/>
<circle cx="206.75" cy="657.5" r="1.3" fill="#4a9e28"/>
<circle cx="212" cy="658.75" r="1.3" fill="#4a9e28"/>
<circle cx="215.75" cy="660.75" r="1.3" fill="#4a9e28"/>
<circle cx="223.75" cy="663.25" r="1.3" fill="#4a9e28"/>
<circle cx="227.5" cy="663.75" r="1.3" fill="#4a9e28"/>
<circle cx="232.5" cy="666.25" r="1.3" fill="#4a9e28"/>
<circle cx="238.25" cy="665.5" r="1.3" fill="#4a9e28"/>
<circle cx="243.25" cy="665.5" r="1.3" fill="#4a9e28"/>
<circle cx="250" cy="666.25" r="1.3" fill="#4a9e28"/>
<circle cx="253" cy="667" r="1.3" fill="#4a9e28"/>
<circle cx="258" cy="669.75" r="1.3" fill="#4a9e28"/>
<path d="M198.75 621.25L196.16 632.2" stroke="#1a1a1a" stroke-width="1.05"/>
<path d="M195.36 635.58L194.26 629.36L196.46 630.96L199.13 630.51Z" fill="#000"/>
<path d="M209.5 643.25L207.23 647.03" stroke="#1a1a1a" stroke-width="1.05"/>
<path d="M205.44 650.01L206.28 643.75L207.89 645.94L210.57 646.33Z" fill="#000"/>
<path d="M222 652L216.37 654.56" stroke="#1a1a1a" stroke-width="1.05"/>
<path d="M213.2 656L217.45 651.32L217.53 654.03L219.52 655.87Z" fill="#000"/>
<path d="M190.75 591.25H184.73" stroke="#1a1a1a" stroke-width="1.05"/>
<path d="M181.25 591.25L187.05 588.75L186.01 591.25L187.05 593.75Z" fill="#000"/>
<text transform="translate(193.75 593.6) scale(1 1.08)" font-size="6" text-anchor="start" fill="#1a1a1a" stroke="#1a1a1a" stroke-width="0.06" textLength="34.35" lengthAdjust="spacingAndGlyphs">Night sweats</text>
<text transform="translate(193.75 610.1) scale(1 1.08)" font-size="6" text-anchor="start" fill="#1a1a1a" stroke="#1a1a1a" stroke-width="0.06" textLength="39.35" lengthAdjust="spacingAndGlyphs">Prostate tumor</text>
<text transform="translate(193.75 616.85) scale(1 1.08)" font-size="6" text-anchor="start" fill="#1a1a1a" stroke="#1a1a1a" stroke-width="0.06" textLength="25.35" lengthAdjust="spacingAndGlyphs">diagnosis</text>
<text transform="translate(210 627.6) scale(1 1.08)" font-size="6" text-anchor="start" fill="#1a1a1a" stroke="#1a1a1a" stroke-width="0.06" textLength="42.35" lengthAdjust="spacingAndGlyphs">Commenced on</text>
<text transform="translate(210 634.85) scale(1 1.08)" font-size="6" text-anchor="start" fill="#1a1a1a" stroke="#1a1a1a" stroke-width="0.06" textLength="46.69" lengthAdjust="spacingAndGlyphs">hormonal therapy</text>
<text transform="translate(210 641.85) scale(1 1.08)" font-size="6" text-anchor="start" fill="#1a1a1a" stroke="#1a1a1a" stroke-width="0.06" textLength="47.35" lengthAdjust="spacingAndGlyphs">for prostate tumor</text>
<text transform="translate(223.75 655.1) scale(1 1.08)" font-size="6" text-anchor="start" fill="#1a1a1a" stroke="#1a1a1a" stroke-width="0.06" textLength="36.01" lengthAdjust="spacingAndGlyphs">Tx completed</text>
<path d="M250.15 695L252.75 690.6L255.35 695Z" fill="#e58b22"/>
<text x="252.75" y="704.5" font-size="7" text-anchor="middle" font-weight="normal" fill="#111" stroke="#111" stroke-width="0.08">T1</text>
<text transform="translate(271.61 583.75) scale(0.88 1)" font-size="13.4" font-weight="bold" fill="#000">S</text>
<text transform="translate(337.9 583.8) scale(1 1.1)" font-size="9.2" text-anchor="middle" fill="#111" stroke="#111" stroke-width="0.08" textLength="26.75" lengthAdjust="spacingAndGlyphs">CLL19</text>
<path d="M295.75 589V673H380" fill="none" stroke="#111" stroke-width="1.5"/>
<path d="M291.95 673H295.75" stroke="#111" stroke-width="1.1"/>
<text x="288.75" y="675.5" font-size="7" text-anchor="end" font-weight="normal" fill="#1a1a1a">0</text>
<path d="M291.95 652.75H295.75" stroke="#111" stroke-width="1.1"/>
<text x="288.75" y="655.25" font-size="7" text-anchor="end" font-weight="normal" fill="#1a1a1a">20</text>
<path d="M291.95 632.5H295.75" stroke="#111" stroke-width="1.1"/>
<text x="288.75" y="635" font-size="7" text-anchor="end" font-weight="normal" fill="#1a1a1a">40</text>
<path d="M291.95 612.25H295.75" stroke="#111" stroke-width="1.1"/>
<text x="288.75" y="614.75" font-size="7" text-anchor="end" font-weight="normal" fill="#1a1a1a">60</text>
<path d="M291.95 592H295.75" stroke="#111" stroke-width="1.1"/>
<text x="288.75" y="594.5" font-size="7" text-anchor="end" font-weight="normal" fill="#1a1a1a">80</text>
<path d="M295.75 673V676.4" stroke="#111" stroke-width="1.1"/>
<text x="295.75" y="685.9" font-size="7" text-anchor="middle" font-weight="normal" fill="#1a1a1a">0</text>
<path d="M309.29 673V676.4" stroke="#111" stroke-width="1.1"/>
<text x="309.29" y="685.9" font-size="7" text-anchor="middle" font-weight="normal" fill="#1a1a1a">5</text>
<path d="M322.83 673V676.4" stroke="#111" stroke-width="1.1"/>
<text x="322.83" y="685.9" font-size="7" text-anchor="middle" font-weight="normal" fill="#1a1a1a">10</text>
<path d="M336.38 673V676.4" stroke="#111" stroke-width="1.1"/>
<text x="336.38" y="685.9" font-size="7" text-anchor="middle" font-weight="normal" fill="#1a1a1a">15</text>
<path d="M349.92 673V676.4" stroke="#111" stroke-width="1.1"/>
<text x="349.92" y="685.9" font-size="7" text-anchor="middle" font-weight="normal" fill="#1a1a1a">20</text>
<path d="M363.46 673V676.4" stroke="#111" stroke-width="1.1"/>
<text x="363.46" y="685.9" font-size="7" text-anchor="middle" font-weight="normal" fill="#1a1a1a">25</text>
<path d="M377 673V676.4" stroke="#111" stroke-width="1.1"/>
<text x="377" y="685.9" font-size="7" text-anchor="middle" font-weight="normal" fill="#1a1a1a">30</text>
<path d="M295.75 653.75 L299.25 654.5 L303 655 L304.25 650.75 L308 651.75 L309.25 646.75 L312 636.25 L314.25 634.25 L316.75 631.75 L319.5 620 L322.5 629.25 L325.5 629.25 L328.75 618 L331.25 607 L333.25 611.75 L336.75 597 L339.5 609.25 L343 598 L346.25 604.5 L347.5 593.25 L348.75 604.5 L350.5 602.5 L351.75 597 L355 641.25 L357.5 649.25 L359.5 642.5 L361.25 646.25 L362.5 648.75 L365 650.75 L367 655 L369.25 660 L371.25 663 L374.25 664.5" fill="none" stroke="#64b639" stroke-width="1.15" stroke-linejoin="round"/>
<circle cx="295.75" cy="653.75" r="1.3" fill="#4a9e28"/>
<circle cx="299.25" cy="654.5" r="1.3" fill="#4a9e28"/>
<circle cx="303" cy="655" r="1.3" fill="#4a9e28"/>
<circle cx="304.25" cy="650.75" r="1.3" fill="#4a9e28"/>
<circle cx="308" cy="651.75" r="1.3" fill="#4a9e28"/>
<circle cx="309.25" cy="646.75" r="1.3" fill="#4a9e28"/>
<circle cx="312" cy="636.25" r="1.3" fill="#4a9e28"/>
<circle cx="314.25" cy="634.25" r="1.3" fill="#4a9e28"/>
<circle cx="316.75" cy="631.75" r="1.3" fill="#4a9e28"/>
<circle cx="319.5" cy="620" r="1.3" fill="#4a9e28"/>
<circle cx="322.5" cy="629.25" r="1.3" fill="#4a9e28"/>
<circle cx="325.5" cy="629.25" r="1.3" fill="#4a9e28"/>
<circle cx="328.75" cy="618" r="1.3" fill="#4a9e28"/>
<circle cx="331.25" cy="607" r="1.3" fill="#4a9e28"/>
<circle cx="333.25" cy="611.75" r="1.3" fill="#4a9e28"/>
<circle cx="336.75" cy="597" r="1.3" fill="#4a9e28"/>
<circle cx="339.5" cy="609.25" r="1.3" fill="#4a9e28"/>
<circle cx="343" cy="598" r="1.3" fill="#4a9e28"/>
<circle cx="346.25" cy="604.5" r="1.3" fill="#4a9e28"/>
<circle cx="347.5" cy="593.25" r="1.3" fill="#4a9e28"/>
<circle cx="348.75" cy="604.5" r="1.3" fill="#4a9e28"/>
<circle cx="350.5" cy="602.5" r="1.3" fill="#4a9e28"/>
<circle cx="351.75" cy="597" r="1.3" fill="#4a9e28"/>
<circle cx="355" cy="641.25" r="1.3" fill="#4a9e28"/>
<circle cx="357.5" cy="649.25" r="1.3" fill="#4a9e28"/>
<circle cx="359.5" cy="642.5" r="1.3" fill="#4a9e28"/>
<circle cx="361.25" cy="646.25" r="1.3" fill="#4a9e28"/>
<circle cx="362.5" cy="648.75" r="1.3" fill="#4a9e28"/>
<circle cx="365" cy="650.75" r="1.3" fill="#4a9e28"/>
<circle cx="367" cy="655" r="1.3" fill="#4a9e28"/>
<circle cx="369.25" cy="660" r="1.3" fill="#4a9e28"/>
<circle cx="371.25" cy="663" r="1.3" fill="#4a9e28"/>
<circle cx="374.25" cy="664.5" r="1.3" fill="#4a9e28"/>
<path d="M319.5 605V614.82" stroke="#1a1a1a" stroke-width="1.05"/>
<path d="M319.5 618.3L317 612.5L319.5 613.54L322 612.5Z" fill="#000"/>
<path d="M333.5 644.5V618.18" stroke="#1a1a1a" stroke-width="1.05"/>
<path d="M333.5 614.7L331 620.5L333.5 619.46L336 620.5Z" fill="#000"/>
<path d="M364.5 621.25V646.07" stroke="#1a1a1a" stroke-width="1.05"/>
<path d="M364.5 649.55L362 643.75L364.5 644.79L367 643.75Z" fill="#000"/>
<path d="M374.5 648.75V659.32" stroke="#1a1a1a" stroke-width="1.05"/>
<path d="M374.5 662.8L372 657L374.5 658.04L377 657Z" fill="#000"/>
<path d="M308.5 662V656.43" stroke="#1a1a1a" stroke-width="1.05"/>
<path d="M308.5 652.95L306 658.75L308.5 657.71L311 658.75Z" fill="#000"/>
<text transform="translate(303.75 599.35) scale(1 1.08)" font-size="6" text-anchor="start" fill="#1a1a1a" stroke="#1a1a1a" stroke-width="0.06" textLength="14.01" lengthAdjust="spacingAndGlyphs">Night</text>
<text transform="translate(303.75 606.35) scale(1 1.08)" font-size="6" text-anchor="start" fill="#1a1a1a" stroke="#1a1a1a" stroke-width="0.06" textLength="18.67" lengthAdjust="spacingAndGlyphs">sweats</text>
<text transform="translate(315 650.6) scale(1 1.08)" font-size="6" text-anchor="start" fill="#1a1a1a" stroke="#1a1a1a" stroke-width="0.06" textLength="38.02" lengthAdjust="spacingAndGlyphs">Splenomegaly</text>
<text transform="translate(354.5 604.35) scale(1 1.08)" font-size="6" text-anchor="start" fill="#1a1a1a" stroke="#1a1a1a" stroke-width="0.06" textLength="30.35" lengthAdjust="spacingAndGlyphs">Lung tumor</text>
<text transform="translate(354.5 611.35) scale(1 1.08)" font-size="6" text-anchor="start" fill="#1a1a1a" stroke="#1a1a1a" stroke-width="0.06" textLength="25.35" lengthAdjust="spacingAndGlyphs">diagnosis</text>
<text transform="translate(354.5 618.1) scale(1 1.08)" font-size="6" text-anchor="start" fill="#1a1a1a" stroke="#1a1a1a" stroke-width="0.06" textLength="37.68" lengthAdjust="spacingAndGlyphs">Tx Lobectomy</text>
<text transform="translate(370 631.35) scale(1 1.08)" font-size="6" text-anchor="start" fill="#1a1a1a" stroke="#1a1a1a" stroke-width="0.06" textLength="7.67" lengthAdjust="spacingAndGlyphs">No</text>
<text transform="translate(370 638.85) scale(1 1.08)" font-size="6" text-anchor="start" fill="#1a1a1a" stroke="#1a1a1a" stroke-width="0.06" textLength="18.68" lengthAdjust="spacingAndGlyphs">adeno-</text>
<text transform="translate(370 645.6) scale(1 1.08)" font-size="6" text-anchor="start" fill="#1a1a1a" stroke="#1a1a1a" stroke-width="0.06" textLength="14.68" lengthAdjust="spacingAndGlyphs">pathy</text>
<text transform="translate(300.75 668.85) scale(1 1.08)" font-size="6" text-anchor="start" fill="#1a1a1a" stroke="#1a1a1a" stroke-width="0.06" textLength="29.67" lengthAdjust="spacingAndGlyphs">LN cervical</text>
<path d="M368.65 695L371.25 690.6L373.85 695Z" fill="#e58b22"/>
<text x="371.25" y="704.5" font-size="7" text-anchor="middle" font-weight="normal" fill="#111" stroke="#111" stroke-width="0.08">T1</text>
<text transform="translate(396.45 583.75) scale(1.05 1)" font-size="13.4" font-weight="bold" fill="#000">T</text>
<text transform="translate(465.9 583.8) scale(1 1.1)" font-size="9.2" text-anchor="middle" fill="#111" stroke="#111" stroke-width="0.08" textLength="26.75" lengthAdjust="spacingAndGlyphs">CLL20</text>
<path d="M423.75 588.25V673H508" fill="none" stroke="#111" stroke-width="1.5"/>
<path d="M419.95 673H423.75" stroke="#111" stroke-width="1.1"/>
<text x="416.75" y="675.5" font-size="7" text-anchor="end" font-weight="normal" fill="#1a1a1a">0</text>
<path d="M419.95 652.56H423.75" stroke="#111" stroke-width="1.1"/>
<text x="416.75" y="655.06" font-size="7" text-anchor="end" font-weight="normal" fill="#1a1a1a">20</text>
<path d="M419.95 632.12H423.75" stroke="#111" stroke-width="1.1"/>
<text x="416.75" y="634.62" font-size="7" text-anchor="end" font-weight="normal" fill="#1a1a1a">40</text>
<path d="M419.95 611.69H423.75" stroke="#111" stroke-width="1.1"/>
<text x="416.75" y="614.19" font-size="7" text-anchor="end" font-weight="normal" fill="#1a1a1a">60</text>
<path d="M419.95 591.25H423.75" stroke="#111" stroke-width="1.1"/>
<text x="416.75" y="593.75" font-size="7" text-anchor="end" font-weight="normal" fill="#1a1a1a">80</text>
<path d="M423.75 673V676.4" stroke="#111" stroke-width="1.1"/>
<text x="423.75" y="685.9" font-size="7" text-anchor="middle" font-weight="normal" fill="#1a1a1a">0</text>
<path d="M444.06 673V676.4" stroke="#111" stroke-width="1.1"/>
<text x="444.06" y="685.9" font-size="7" text-anchor="middle" font-weight="normal" fill="#1a1a1a">5</text>
<path d="M464.38 673V676.4" stroke="#111" stroke-width="1.1"/>
<text x="464.38" y="685.9" font-size="7" text-anchor="middle" font-weight="normal" fill="#1a1a1a">10</text>
<path d="M484.69 673V676.4" stroke="#111" stroke-width="1.1"/>
<text x="484.69" y="685.9" font-size="7" text-anchor="middle" font-weight="normal" fill="#1a1a1a">15</text>
<path d="M505 673V676.4" stroke="#111" stroke-width="1.1"/>
<text x="505" y="685.9" font-size="7" text-anchor="middle" font-weight="normal" fill="#1a1a1a">20</text>
<path d="M423.75 611.75 L425.5 605.75 L430 601.75 L436.25 608.75 L445 613 L454.25 632.5 L460.5 653.75 L474.25 652 L479.5 657.5 L480.5 665.75 L484.5 669.25 L487.5 660.75 L491.75 652.5" fill="none" stroke="#552979" stroke-width="1.1" stroke-linejoin="round"/>
<circle cx="423.75" cy="611.75" r="1.3" fill="#4a2068"/>
<circle cx="425.5" cy="605.75" r="1.3" fill="#4a2068"/>
<circle cx="430" cy="601.75" r="1.3" fill="#4a2068"/>
<circle cx="436.25" cy="608.75" r="1.3" fill="#4a2068"/>
<circle cx="445" cy="613" r="1.3" fill="#4a2068"/>
<circle cx="454.25" cy="632.5" r="1.3" fill="#4a2068"/>
<circle cx="460.5" cy="653.75" r="1.3" fill="#4a2068"/>
<circle cx="474.25" cy="652" r="1.3" fill="#4a2068"/>
<circle cx="479.5" cy="657.5" r="1.3" fill="#4a2068"/>
<circle cx="480.5" cy="665.75" r="1.3" fill="#4a2068"/>
<circle cx="484.5" cy="669.25" r="1.3" fill="#4a2068"/>
<circle cx="487.5" cy="660.75" r="1.3" fill="#4a2068"/>
<circle cx="491.75" cy="652.5" r="1.3" fill="#4a2068"/>
<path d="M427.5 653V615.18" stroke="#1a1a1a" stroke-width="1.05"/>
<path d="M427.5 611.7L425 617.5L427.5 616.46L430 617.5Z" fill="#000"/>
<path d="M473.5 610V644.82" stroke="#1a1a1a" stroke-width="1.05"/>
<path d="M473.5 648.3L471 642.5L473.5 643.54L476 642.5Z" fill="#000"/>
<path d="M492.5 636.25V646.82" stroke="#1a1a1a" stroke-width="1.05"/>
<path d="M492.5 650.3L490 644.5L492.5 645.54L495 644.5Z" fill="#000"/>
<text transform="translate(426.25 661.35) scale(1 1.08)" font-size="6" text-anchor="start" fill="#1a1a1a" stroke="#1a1a1a" stroke-width="0.06" textLength="24.57" lengthAdjust="spacingAndGlyphs">Lethargy,</text>
<text transform="translate(426.25 668.1) scale(1 1.08)" font-size="6" text-anchor="start" fill="#1a1a1a" stroke="#1a1a1a" stroke-width="0.06" textLength="39.7" lengthAdjust="spacingAndGlyphs">no adenopathy</text>
<text transform="translate(462.5 601.85) scale(1 1.08)" font-size="6" text-anchor="start" fill="#1a1a1a" stroke="#1a1a1a" stroke-width="0.06" textLength="39.34" lengthAdjust="spacingAndGlyphs">Asymptomatic,</text>
<text transform="translate(462.5 608.85) scale(1 1.08)" font-size="6" text-anchor="start" fill="#1a1a1a" stroke="#1a1a1a" stroke-width="0.06" textLength="40.7" lengthAdjust="spacingAndGlyphs">No adenopathy</text>
<text transform="translate(485.5 635.6) scale(1 1.08)" font-size="6" text-anchor="start" fill="#1a1a1a" stroke="#1a1a1a" stroke-width="0.06" textLength="22.01" lengthAdjust="spacingAndGlyphs">Relapse</text>
<path d="M424.9 695L427.5 690.6L430.1 695Z" fill="#e58b22"/>
<text x="427.5" y="704.5" font-size="7" text-anchor="middle" font-weight="normal" fill="#111" stroke="#111" stroke-width="0.08">T0</text>
<path d="M446.15 695L448.75 690.6L451.35 695Z" fill="#e58b22"/>
<text x="448.75" y="704.5" font-size="7" text-anchor="middle" font-weight="normal" fill="#111" stroke="#111" stroke-width="0.08">T1</text>
<path d="M491.15 695L493.75 690.6L496.35 695Z" fill="#e58b22"/>
<text x="493.75" y="704.5" font-size="7" text-anchor="middle" font-weight="normal" fill="#111" stroke="#111" stroke-width="0.08">T2</text>

<rect x="0" y="0" width="520" height="1" fill="#000"/>
<rect x="0" y="0" width="1.1" height="728" fill="#000"/>
<rect x="518.7" y="0" width="1.3" height="728" fill="#000"/>
<rect x="0" y="726.2" width="520" height="1.8" fill="#000"/>
<text transform="translate(19.7 415.6) rotate(-90)" font-size="9.4" fill="#222" textLength="119.4" lengthAdjust="spacingAndGlyphs">Absolute lymphocyte count (x 10<tspan font-size="6" dy="-3.2">9</tspan><tspan dy="3.2">/L)</tspan></text>
<text x="222.85" y="718.1" font-size="9.6" fill="#111" stroke="#111" stroke-width="0.12" textLength="104.8" lengthAdjust="spacingAndGlyphs">Time since CLL diagnosis (years)</text>

</svg></body></html>
